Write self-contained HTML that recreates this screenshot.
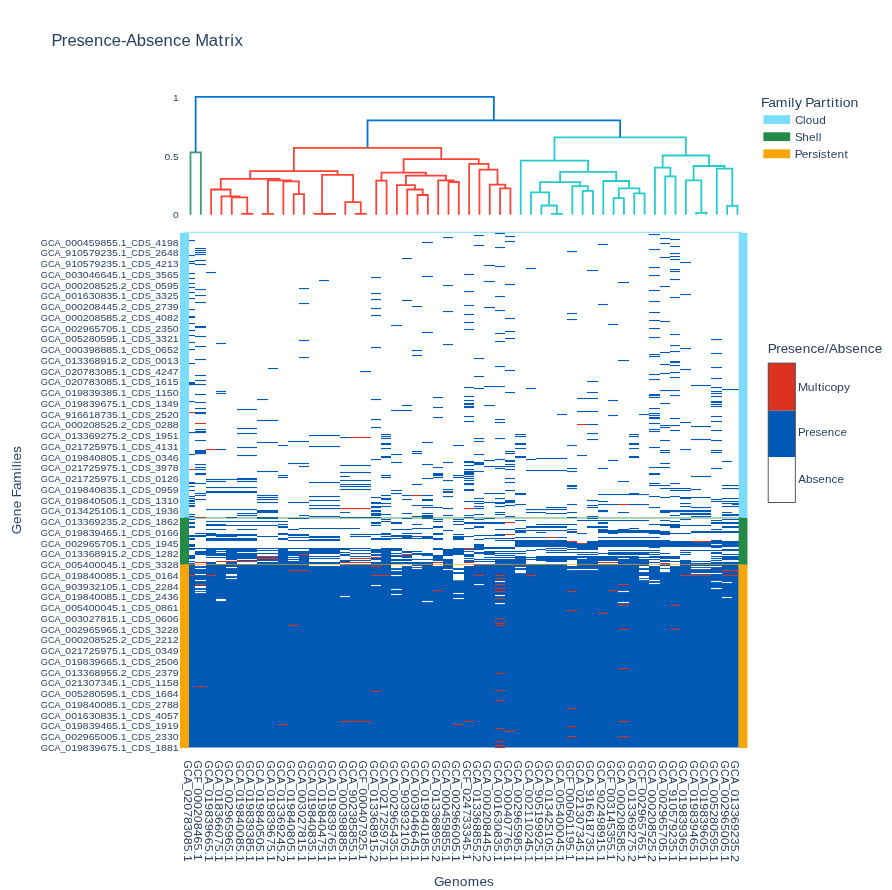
<!DOCTYPE html>
<html><head><meta charset="utf-8"><title>Presence-Absence Matrix</title>
<style>html,body{margin:0;padding:0;background:#fff;}body{width:892px;height:890px;overflow:hidden;font-family:"Liberation Sans",sans-serif;}</style>
</head><body>
<svg width="892" height="890" viewBox="0 0 892 890" style="display:block;will-change:transform" font-family="Liberation Sans, sans-serif">
<rect width="892" height="890" fill="#fff"/>
<g transform="translate(52.50 45.50)" font-size="15.61" fill="#2a3f5f"><text transform="scale(1.0671 1)" x="-0.92 8.76 14.03 22.38 30.02 38.89 47.73 55.57 64.25 68.91 78.98 87.63 95.27 104.14 112.98 120.82 129.62 133.67 146.32 155.63 160.90 166.66 170.67" y="0">Presence-Absence Matrix</text></g>
<path d="M190.50 214.80 L190.50 152.30 L200.82 152.30 L200.82 214.80" fill="none" stroke="rgb(61,153,112)" stroke-width="1.78" stroke-linejoin="miter"/>
<path d="M242.10 214.80 L242.10 213.90 L252.42 213.90 L252.42 214.80" fill="none" stroke="rgb(255,65,54)" stroke-width="1.78" stroke-linejoin="miter"/>
<path d="M231.78 214.80 L231.78 197.30 L247.26 197.30 L247.26 213.90" fill="none" stroke="rgb(255,65,54)" stroke-width="1.78" stroke-linejoin="miter"/>
<path d="M221.46 214.80 L221.46 196.30 L239.52 196.30 L239.52 197.30" fill="none" stroke="rgb(255,65,54)" stroke-width="1.78" stroke-linejoin="miter"/>
<path d="M211.14 214.80 L211.14 189.50 L230.49 189.50 L230.49 196.30" fill="none" stroke="rgb(255,65,54)" stroke-width="1.78" stroke-linejoin="miter"/>
<path d="M262.74 214.80 L262.74 213.90 L273.06 213.90 L273.06 214.80" fill="none" stroke="rgb(255,65,54)" stroke-width="1.78" stroke-linejoin="miter"/>
<path d="M293.70 214.80 L293.70 194.10 L304.02 194.10 L304.02 214.80" fill="none" stroke="rgb(255,65,54)" stroke-width="1.78" stroke-linejoin="miter"/>
<path d="M283.38 214.80 L283.38 181.30 L298.86 181.30 L298.86 194.10" fill="none" stroke="rgb(255,65,54)" stroke-width="1.78" stroke-linejoin="miter"/>
<path d="M267.90 213.90 L267.90 180.30 L291.12 180.30 L291.12 181.30" fill="none" stroke="rgb(255,65,54)" stroke-width="1.78" stroke-linejoin="miter"/>
<path d="M220.81 189.50 L220.81 178.80 L279.51 178.80 L279.51 180.30" fill="none" stroke="rgb(255,65,54)" stroke-width="1.78" stroke-linejoin="miter"/>
<path d="M324.66 214.80 L324.66 213.90 L334.98 213.90 L334.98 214.80" fill="none" stroke="rgb(255,65,54)" stroke-width="1.78" stroke-linejoin="miter"/>
<path d="M314.34 214.80 L314.34 213.90 L329.82 213.90 L329.82 213.90" fill="none" stroke="rgb(255,65,54)" stroke-width="1.78" stroke-linejoin="miter"/>
<path d="M355.62 214.80 L355.62 213.90 L365.94 213.90 L365.94 214.80" fill="none" stroke="rgb(255,65,54)" stroke-width="1.78" stroke-linejoin="miter"/>
<path d="M345.30 214.80 L345.30 202.10 L360.78 202.10 L360.78 213.90" fill="none" stroke="rgb(255,65,54)" stroke-width="1.78" stroke-linejoin="miter"/>
<path d="M322.08 213.90 L322.08 174.90 L353.04 174.90 L353.04 202.10" fill="none" stroke="rgb(255,65,54)" stroke-width="1.78" stroke-linejoin="miter"/>
<path d="M250.16 178.80 L250.16 171.10 L337.56 171.10 L337.56 174.90" fill="none" stroke="rgb(255,65,54)" stroke-width="1.78" stroke-linejoin="miter"/>
<path d="M376.26 214.80 L376.26 180.60 L386.58 180.60 L386.58 214.80" fill="none" stroke="rgb(255,65,54)" stroke-width="1.78" stroke-linejoin="miter"/>
<path d="M417.54 214.80 L417.54 195.00 L427.86 195.00 L427.86 214.80" fill="none" stroke="rgb(255,65,54)" stroke-width="1.78" stroke-linejoin="miter"/>
<path d="M407.22 214.80 L407.22 189.50 L422.70 189.50 L422.70 195.00" fill="none" stroke="rgb(255,65,54)" stroke-width="1.78" stroke-linejoin="miter"/>
<path d="M396.90 214.80 L396.90 185.10 L414.96 185.10 L414.96 189.50" fill="none" stroke="rgb(255,65,54)" stroke-width="1.78" stroke-linejoin="miter"/>
<path d="M448.50 214.80 L448.50 182.00 L458.82 182.00 L458.82 214.80" fill="none" stroke="rgb(255,65,54)" stroke-width="1.78" stroke-linejoin="miter"/>
<path d="M438.18 214.80 L438.18 180.30 L453.66 180.30 L453.66 182.00" fill="none" stroke="rgb(255,65,54)" stroke-width="1.78" stroke-linejoin="miter"/>
<path d="M405.93 185.10 L405.93 175.60 L445.92 175.60 L445.92 180.30" fill="none" stroke="rgb(255,65,54)" stroke-width="1.78" stroke-linejoin="miter"/>
<path d="M381.42 180.60 L381.42 172.60 L425.92 172.60 L425.92 175.60" fill="none" stroke="rgb(255,65,54)" stroke-width="1.78" stroke-linejoin="miter"/>
<path d="M500.10 214.80 L500.10 188.30 L510.42 188.30 L510.42 214.80" fill="none" stroke="rgb(255,65,54)" stroke-width="1.78" stroke-linejoin="miter"/>
<path d="M489.78 214.80 L489.78 184.60 L505.26 184.60 L505.26 188.30" fill="none" stroke="rgb(255,65,54)" stroke-width="1.78" stroke-linejoin="miter"/>
<path d="M479.46 214.80 L479.46 169.60 L497.52 169.60 L497.52 184.60" fill="none" stroke="rgb(255,65,54)" stroke-width="1.78" stroke-linejoin="miter"/>
<path d="M469.14 214.80 L469.14 163.80 L488.49 163.80 L488.49 169.60" fill="none" stroke="rgb(255,65,54)" stroke-width="1.78" stroke-linejoin="miter"/>
<path d="M403.67 172.60 L403.67 159.10 L478.81 159.10 L478.81 163.80" fill="none" stroke="rgb(255,65,54)" stroke-width="1.78" stroke-linejoin="miter"/>
<path d="M293.86 171.10 L293.86 147.80 L441.24 147.80 L441.24 159.10" fill="none" stroke="rgb(255,65,54)" stroke-width="1.78" stroke-linejoin="miter"/>
<path d="M551.70 214.80 L551.70 213.90 L562.02 213.90 L562.02 214.80" fill="none" stroke="rgb(35,205,205)" stroke-width="1.78" stroke-linejoin="miter"/>
<path d="M541.38 214.80 L541.38 205.50 L556.86 205.50 L556.86 213.90" fill="none" stroke="rgb(35,205,205)" stroke-width="1.78" stroke-linejoin="miter"/>
<path d="M531.06 214.80 L531.06 192.40 L549.12 192.40 L549.12 205.50" fill="none" stroke="rgb(35,205,205)" stroke-width="1.78" stroke-linejoin="miter"/>
<path d="M582.66 214.80 L582.66 190.90 L592.98 190.90 L592.98 214.80" fill="none" stroke="rgb(35,205,205)" stroke-width="1.78" stroke-linejoin="miter"/>
<path d="M572.34 214.80 L572.34 186.10 L587.82 186.10 L587.82 190.90" fill="none" stroke="rgb(35,205,205)" stroke-width="1.78" stroke-linejoin="miter"/>
<path d="M540.09 192.40 L540.09 182.20 L580.08 182.20 L580.08 186.10" fill="none" stroke="rgb(35,205,205)" stroke-width="1.78" stroke-linejoin="miter"/>
<path d="M613.62 214.80 L613.62 198.20 L623.94 198.20 L623.94 214.80" fill="none" stroke="rgb(35,205,205)" stroke-width="1.78" stroke-linejoin="miter"/>
<path d="M634.26 214.80 L634.26 193.40 L644.58 193.40 L644.58 214.80" fill="none" stroke="rgb(35,205,205)" stroke-width="1.78" stroke-linejoin="miter"/>
<path d="M618.78 198.20 L618.78 188.30 L639.42 188.30 L639.42 193.40" fill="none" stroke="rgb(35,205,205)" stroke-width="1.78" stroke-linejoin="miter"/>
<path d="M603.30 214.80 L603.30 181.00 L629.10 181.00 L629.10 188.30" fill="none" stroke="rgb(35,205,205)" stroke-width="1.78" stroke-linejoin="miter"/>
<path d="M560.09 182.20 L560.09 171.80 L616.20 171.80 L616.20 181.00" fill="none" stroke="rgb(35,205,205)" stroke-width="1.78" stroke-linejoin="miter"/>
<path d="M520.74 214.80 L520.74 160.60 L588.14 160.60 L588.14 171.80" fill="none" stroke="rgb(35,205,205)" stroke-width="1.78" stroke-linejoin="miter"/>
<path d="M665.22 214.80 L665.22 176.30 L675.54 176.30 L675.54 214.80" fill="none" stroke="rgb(35,205,205)" stroke-width="1.78" stroke-linejoin="miter"/>
<path d="M654.90 214.80 L654.90 167.60 L670.38 167.60 L670.38 176.30" fill="none" stroke="rgb(35,205,205)" stroke-width="1.78" stroke-linejoin="miter"/>
<path d="M696.18 214.80 L696.18 212.80 L706.50 212.80 L706.50 214.80" fill="none" stroke="rgb(35,205,205)" stroke-width="1.78" stroke-linejoin="miter"/>
<path d="M685.86 214.80 L685.86 180.30 L701.34 180.30 L701.34 212.80" fill="none" stroke="rgb(35,205,205)" stroke-width="1.78" stroke-linejoin="miter"/>
<path d="M727.14 214.80 L727.14 205.80 L737.46 205.80 L737.46 214.80" fill="none" stroke="rgb(35,205,205)" stroke-width="1.78" stroke-linejoin="miter"/>
<path d="M716.82 214.80 L716.82 168.60 L732.30 168.60 L732.30 205.80" fill="none" stroke="rgb(35,205,205)" stroke-width="1.78" stroke-linejoin="miter"/>
<path d="M693.60 180.30 L693.60 166.00 L724.56 166.00 L724.56 168.60" fill="none" stroke="rgb(35,205,205)" stroke-width="1.78" stroke-linejoin="miter"/>
<path d="M662.64 167.60 L662.64 155.50 L709.08 155.50 L709.08 166.00" fill="none" stroke="rgb(35,205,205)" stroke-width="1.78" stroke-linejoin="miter"/>
<path d="M554.44 160.60 L554.44 137.30 L685.86 137.30 L685.86 155.50" fill="none" stroke="rgb(35,205,205)" stroke-width="1.78" stroke-linejoin="miter"/>
<path d="M367.55 147.80 L367.55 120.40 L620.15 120.40 L620.15 137.30" fill="none" stroke="rgb(0,116,217)" stroke-width="1.78" stroke-linejoin="miter"/>
<path d="M195.66 152.30 L195.66 96.80 L493.85 96.80 L493.85 120.40" fill="none" stroke="rgb(0,116,217)" stroke-width="1.78" stroke-linejoin="miter"/>
<g transform="translate(178.60 101.20)" font-size="9.19" fill="#2a3f5f"><text transform="scale(1.1107 1)" x="-5.11" y="0">1</text></g>
<g transform="translate(178.60 160.20)" font-size="9.19" fill="#2a3f5f"><text transform="scale(1.1107 1)" x="-12.77 -7.66 -5.11" y="0">0.5</text></g>
<g transform="translate(178.60 218.20)" font-size="9.19" fill="#2a3f5f"><text transform="scale(1.1107 1)" x="-5.11" y="0">0</text></g>
<g shape-rendering="auto">
<rect x="189.00" y="564.00" width="549.70" height="183.50" fill="#005ab5"/>
<rect x="189.00" y="239.97" width="6.00" height="1.10" fill="#005ab5"/>
<rect x="189.00" y="254.97" width="6.00" height="1.10" fill="#005ab5"/>
<rect x="189.00" y="260.97" width="6.00" height="1.10" fill="#005ab5"/>
<rect x="189.00" y="262.97" width="6.00" height="1.10" fill="#005ab5"/>
<rect x="189.00" y="272.97" width="6.00" height="1.10" fill="#005ab5"/>
<rect x="189.00" y="277.97" width="6.00" height="1.10" fill="#005ab5"/>
<rect x="189.00" y="282.97" width="6.00" height="1.10" fill="#005ab5"/>
<rect x="189.00" y="286.97" width="6.00" height="1.10" fill="#005ab5"/>
<rect x="189.00" y="291.97" width="6.00" height="1.10" fill="#005ab5"/>
<rect x="189.00" y="297.97" width="6.00" height="1.10" fill="#005ab5"/>
<rect x="189.00" y="308.97" width="6.00" height="1.10" fill="#005ab5"/>
<rect x="189.00" y="315.98" width="6.00" height="2.10" fill="#005ab5"/>
<rect x="189.00" y="322.97" width="6.00" height="1.10" fill="#005ab5"/>
<rect x="189.00" y="329.97" width="6.00" height="1.10" fill="#005ab5"/>
<rect x="189.00" y="334.97" width="6.00" height="1.10" fill="#005ab5"/>
<rect x="189.00" y="341.97" width="6.00" height="1.10" fill="#005ab5"/>
<rect x="189.00" y="348.97" width="6.00" height="1.10" fill="#005ab5"/>
<rect x="189.00" y="362.97" width="6.00" height="1.10" fill="#005ab5"/>
<rect x="195.00" y="247.97" width="11.00" height="1.10" fill="#005ab5"/>
<rect x="195.00" y="249.97" width="11.00" height="1.10" fill="#005ab5"/>
<rect x="195.00" y="251.97" width="11.00" height="1.10" fill="#005ab5"/>
<rect x="195.00" y="253.97" width="11.00" height="1.10" fill="#005ab5"/>
<rect x="195.00" y="259.97" width="11.00" height="1.10" fill="#005ab5"/>
<rect x="195.00" y="263.97" width="11.00" height="1.10" fill="#005ab5"/>
<rect x="195.00" y="288.97" width="11.00" height="1.10" fill="#005ab5"/>
<rect x="195.00" y="294.97" width="11.00" height="1.10" fill="#005ab5"/>
<rect x="195.00" y="301.97" width="11.00" height="1.10" fill="#005ab5"/>
<rect x="195.00" y="325.98" width="11.00" height="2.10" fill="#005ab5"/>
<rect x="195.00" y="335.97" width="11.00" height="1.10" fill="#005ab5"/>
<rect x="195.00" y="345.97" width="11.00" height="1.10" fill="#005ab5"/>
<rect x="195.00" y="358.97" width="11.00" height="1.10" fill="#005ab5"/>
<rect x="206.00" y="271.97" width="10.00" height="1.10" fill="#005ab5"/>
<rect x="216.00" y="342.97" width="10.00" height="1.10" fill="#005ab5"/>
<rect x="268.00" y="367.97" width="10.00" height="1.10" fill="#005ab5"/>
<rect x="299.00" y="287.97" width="10.00" height="1.10" fill="#005ab5"/>
<rect x="299.00" y="302.97" width="10.00" height="1.10" fill="#005ab5"/>
<rect x="299.00" y="339.97" width="10.00" height="1.10" fill="#005ab5"/>
<rect x="299.00" y="356.97" width="10.00" height="1.10" fill="#005ab5"/>
<rect x="319.00" y="279.97" width="10.00" height="1.10" fill="#005ab5"/>
<rect x="360.00" y="370.97" width="11.00" height="1.10" fill="#005ab5"/>
<rect x="371.00" y="276.97" width="10.00" height="1.10" fill="#005ab5"/>
<rect x="371.00" y="292.97" width="10.00" height="1.10" fill="#005ab5"/>
<rect x="371.00" y="298.97" width="10.00" height="1.10" fill="#005ab5"/>
<rect x="371.00" y="307.97" width="10.00" height="1.10" fill="#005ab5"/>
<rect x="371.00" y="314.97" width="10.00" height="1.10" fill="#005ab5"/>
<rect x="371.00" y="346.97" width="10.00" height="1.10" fill="#005ab5"/>
<rect x="391.00" y="324.97" width="11.00" height="1.10" fill="#005ab5"/>
<rect x="402.00" y="257.97" width="10.00" height="1.10" fill="#005ab5"/>
<rect x="402.00" y="299.97" width="10.00" height="1.10" fill="#005ab5"/>
<rect x="412.00" y="305.97" width="10.00" height="1.10" fill="#005ab5"/>
<rect x="412.00" y="349.97" width="10.00" height="1.10" fill="#005ab5"/>
<rect x="412.00" y="354.97" width="10.00" height="1.10" fill="#005ab5"/>
<rect x="422.00" y="241.97" width="11.00" height="1.10" fill="#005ab5"/>
<rect x="422.00" y="275.97" width="11.00" height="1.10" fill="#005ab5"/>
<rect x="422.00" y="331.97" width="11.00" height="1.10" fill="#005ab5"/>
<rect x="443.00" y="236.97" width="10.00" height="1.10" fill="#005ab5"/>
<rect x="443.00" y="284.97" width="10.00" height="1.10" fill="#005ab5"/>
<rect x="443.00" y="310.97" width="10.00" height="1.10" fill="#005ab5"/>
<rect x="443.00" y="343.97" width="10.00" height="1.10" fill="#005ab5"/>
<rect x="464.00" y="273.97" width="10.00" height="1.10" fill="#005ab5"/>
<rect x="464.00" y="290.97" width="10.00" height="1.10" fill="#005ab5"/>
<rect x="464.00" y="304.97" width="10.00" height="1.10" fill="#005ab5"/>
<rect x="464.00" y="313.97" width="10.00" height="1.10" fill="#005ab5"/>
<rect x="464.00" y="321.97" width="10.00" height="1.10" fill="#005ab5"/>
<rect x="464.00" y="328.97" width="10.00" height="1.10" fill="#005ab5"/>
<rect x="474.00" y="234.97" width="10.00" height="1.10" fill="#005ab5"/>
<rect x="474.00" y="244.97" width="10.00" height="1.10" fill="#005ab5"/>
<rect x="474.00" y="357.97" width="10.00" height="1.10" fill="#005ab5"/>
<rect x="484.00" y="264.97" width="11.00" height="1.10" fill="#005ab5"/>
<rect x="484.00" y="280.97" width="11.00" height="1.10" fill="#005ab5"/>
<rect x="484.00" y="306.97" width="11.00" height="1.10" fill="#005ab5"/>
<rect x="495.00" y="232.97" width="10.00" height="1.10" fill="#005ab5"/>
<rect x="495.00" y="246.97" width="10.00" height="1.10" fill="#005ab5"/>
<rect x="495.00" y="265.97" width="10.00" height="1.10" fill="#005ab5"/>
<rect x="495.00" y="295.97" width="10.00" height="1.10" fill="#005ab5"/>
<rect x="495.00" y="309.97" width="10.00" height="1.10" fill="#005ab5"/>
<rect x="495.00" y="332.97" width="10.00" height="1.10" fill="#005ab5"/>
<rect x="495.00" y="340.97" width="10.00" height="1.10" fill="#005ab5"/>
<rect x="495.00" y="365.97" width="10.00" height="1.10" fill="#005ab5"/>
<rect x="505.00" y="235.97" width="10.00" height="1.10" fill="#005ab5"/>
<rect x="505.00" y="240.97" width="10.00" height="1.10" fill="#005ab5"/>
<rect x="505.00" y="283.97" width="10.00" height="1.10" fill="#005ab5"/>
<rect x="505.00" y="317.97" width="10.00" height="1.10" fill="#005ab5"/>
<rect x="505.00" y="330.97" width="10.00" height="1.10" fill="#005ab5"/>
<rect x="505.00" y="337.97" width="10.00" height="1.10" fill="#005ab5"/>
<rect x="505.00" y="369.97" width="10.00" height="1.10" fill="#005ab5"/>
<rect x="526.00" y="267.97" width="10.00" height="1.10" fill="#005ab5"/>
<rect x="567.00" y="250.97" width="10.00" height="1.10" fill="#005ab5"/>
<rect x="567.00" y="312.97" width="10.00" height="1.10" fill="#005ab5"/>
<rect x="567.00" y="318.97" width="10.00" height="1.10" fill="#005ab5"/>
<rect x="587.00" y="269.97" width="11.00" height="1.10" fill="#005ab5"/>
<rect x="598.00" y="243.97" width="10.00" height="1.10" fill="#005ab5"/>
<rect x="598.00" y="303.97" width="10.00" height="1.10" fill="#005ab5"/>
<rect x="608.00" y="323.97" width="10.00" height="1.10" fill="#005ab5"/>
<rect x="618.00" y="281.97" width="11.00" height="1.10" fill="#005ab5"/>
<rect x="618.00" y="359.97" width="11.00" height="1.10" fill="#005ab5"/>
<rect x="649.00" y="233.97" width="11.00" height="1.10" fill="#005ab5"/>
<rect x="649.00" y="248.97" width="11.00" height="1.10" fill="#005ab5"/>
<rect x="649.00" y="266.97" width="11.00" height="1.10" fill="#005ab5"/>
<rect x="649.00" y="274.97" width="11.00" height="1.10" fill="#005ab5"/>
<rect x="649.00" y="289.97" width="11.00" height="1.10" fill="#005ab5"/>
<rect x="649.00" y="300.97" width="11.00" height="1.10" fill="#005ab5"/>
<rect x="649.00" y="311.97" width="11.00" height="1.10" fill="#005ab5"/>
<rect x="649.00" y="319.97" width="11.00" height="1.10" fill="#005ab5"/>
<rect x="649.00" y="327.97" width="11.00" height="1.10" fill="#005ab5"/>
<rect x="649.00" y="336.97" width="11.00" height="1.10" fill="#005ab5"/>
<rect x="649.00" y="353.97" width="11.00" height="1.10" fill="#005ab5"/>
<rect x="649.00" y="355.97" width="11.00" height="1.10" fill="#005ab5"/>
<rect x="660.00" y="237.97" width="10.00" height="1.10" fill="#005ab5"/>
<rect x="660.00" y="242.97" width="10.00" height="1.10" fill="#005ab5"/>
<rect x="660.00" y="256.97" width="10.00" height="1.10" fill="#005ab5"/>
<rect x="660.00" y="285.97" width="10.00" height="1.10" fill="#005ab5"/>
<rect x="660.00" y="320.97" width="10.00" height="1.10" fill="#005ab5"/>
<rect x="660.00" y="351.97" width="10.00" height="1.10" fill="#005ab5"/>
<rect x="660.00" y="363.97" width="10.00" height="1.10" fill="#005ab5"/>
<rect x="670.00" y="238.97" width="10.00" height="1.10" fill="#005ab5"/>
<rect x="670.00" y="245.97" width="10.00" height="1.10" fill="#005ab5"/>
<rect x="670.00" y="252.97" width="10.00" height="1.10" fill="#005ab5"/>
<rect x="670.00" y="255.97" width="10.00" height="1.10" fill="#005ab5"/>
<rect x="670.00" y="258.97" width="10.00" height="1.10" fill="#005ab5"/>
<rect x="670.00" y="268.97" width="10.00" height="1.10" fill="#005ab5"/>
<rect x="670.00" y="270.97" width="10.00" height="1.10" fill="#005ab5"/>
<rect x="670.00" y="278.97" width="10.00" height="1.10" fill="#005ab5"/>
<rect x="670.00" y="296.97" width="10.00" height="1.10" fill="#005ab5"/>
<rect x="670.00" y="333.97" width="10.00" height="1.10" fill="#005ab5"/>
<rect x="670.00" y="344.97" width="10.00" height="1.10" fill="#005ab5"/>
<rect x="670.00" y="350.97" width="10.00" height="1.10" fill="#005ab5"/>
<rect x="670.00" y="360.98" width="10.00" height="2.10" fill="#005ab5"/>
<rect x="670.00" y="364.97" width="10.00" height="1.10" fill="#005ab5"/>
<rect x="680.00" y="261.97" width="11.00" height="1.10" fill="#005ab5"/>
<rect x="680.00" y="293.97" width="11.00" height="1.10" fill="#005ab5"/>
<rect x="680.00" y="347.97" width="11.00" height="1.10" fill="#005ab5"/>
<rect x="680.00" y="368.97" width="11.00" height="1.10" fill="#005ab5"/>
<rect x="711.00" y="338.97" width="11.00" height="1.10" fill="#005ab5"/>
<rect x="711.00" y="352.97" width="11.00" height="1.10" fill="#005ab5"/>
<rect x="711.00" y="366.97" width="11.00" height="1.10" fill="#005ab5"/>
<rect x="189.00" y="381.98" width="6.00" height="3.15" fill="#005ab5"/>
<rect x="189.00" y="400.97" width="6.00" height="1.10" fill="#005ab5"/>
<rect x="189.00" y="411.97" width="6.00" height="1.10" fill="#dc3220"/>
<rect x="189.00" y="431.97" width="6.00" height="1.10" fill="#005ab5"/>
<rect x="189.00" y="453.97" width="6.00" height="1.10" fill="#005ab5"/>
<rect x="189.00" y="468.97" width="6.00" height="1.10" fill="#dc3220"/>
<rect x="189.00" y="481.98" width="6.00" height="2.10" fill="#005ab5"/>
<rect x="189.00" y="485.97" width="6.00" height="1.10" fill="#005ab5"/>
<rect x="189.00" y="489.97" width="6.00" height="1.10" fill="#005ab5"/>
<rect x="189.00" y="495.97" width="6.00" height="1.10" fill="#005ab5"/>
<rect x="189.00" y="497.97" width="6.00" height="1.10" fill="#005ab5"/>
<rect x="189.00" y="499.98" width="6.00" height="2.10" fill="#005ab5"/>
<rect x="189.00" y="502.97" width="6.00" height="1.10" fill="#005ab5"/>
<rect x="189.00" y="504.98" width="6.00" height="2.10" fill="#005ab5"/>
<rect x="195.00" y="374.97" width="11.00" height="1.10" fill="#005ab5"/>
<rect x="195.00" y="379.97" width="11.00" height="1.10" fill="#005ab5"/>
<rect x="195.00" y="383.97" width="11.00" height="1.10" fill="#005ab5"/>
<rect x="195.00" y="393.97" width="11.00" height="1.10" fill="#005ab5"/>
<rect x="195.00" y="401.97" width="11.00" height="1.10" fill="#005ab5"/>
<rect x="195.00" y="407.97" width="11.00" height="1.10" fill="#005ab5"/>
<rect x="195.00" y="411.98" width="11.00" height="2.10" fill="#005ab5"/>
<rect x="195.00" y="422.97" width="11.00" height="1.10" fill="#dc3220"/>
<rect x="195.00" y="428.97" width="11.00" height="1.10" fill="#005ab5"/>
<rect x="195.00" y="430.98" width="11.00" height="2.10" fill="#005ab5"/>
<rect x="195.00" y="439.97" width="11.00" height="1.10" fill="#005ab5"/>
<rect x="195.00" y="449.98" width="11.00" height="4.20" fill="#005ab5"/>
<rect x="195.00" y="463.97" width="11.00" height="1.10" fill="#005ab5"/>
<rect x="195.00" y="466.97" width="11.00" height="1.10" fill="#005ab5"/>
<rect x="195.00" y="468.97" width="11.00" height="1.10" fill="#005ab5"/>
<rect x="195.00" y="472.98" width="11.00" height="2.10" fill="#005ab5"/>
<rect x="195.00" y="482.97" width="11.00" height="1.10" fill="#005ab5"/>
<rect x="195.00" y="492.97" width="11.00" height="1.10" fill="#005ab5"/>
<rect x="195.00" y="494.97" width="11.00" height="1.10" fill="#005ab5"/>
<rect x="195.00" y="498.97" width="11.00" height="1.10" fill="#005ab5"/>
<rect x="206.00" y="448.97" width="10.00" height="1.10" fill="#dc3220"/>
<rect x="216.00" y="390.97" width="10.00" height="1.10" fill="#005ab5"/>
<rect x="216.00" y="392.97" width="10.00" height="1.10" fill="#005ab5"/>
<rect x="216.00" y="448.97" width="10.00" height="1.10" fill="#005ab5"/>
<rect x="237.00" y="408.97" width="20.00" height="1.10" fill="#005ab5"/>
<rect x="237.00" y="427.97" width="20.00" height="1.10" fill="#005ab5"/>
<rect x="237.00" y="432.97" width="20.00" height="1.10" fill="#005ab5"/>
<rect x="237.00" y="446.97" width="20.00" height="1.10" fill="#005ab5"/>
<rect x="237.00" y="454.97" width="20.00" height="1.10" fill="#005ab5"/>
<rect x="237.00" y="477.98" width="20.00" height="2.10" fill="#005ab5"/>
<rect x="237.00" y="480.97" width="20.00" height="1.10" fill="#005ab5"/>
<rect x="257.00" y="398.97" width="11.00" height="1.10" fill="#005ab5"/>
<rect x="257.00" y="419.97" width="21.00" height="1.10" fill="#005ab5"/>
<rect x="257.00" y="441.97" width="21.00" height="1.10" fill="#005ab5"/>
<rect x="257.00" y="470.97" width="21.00" height="1.10" fill="#005ab5"/>
<rect x="257.00" y="494.97" width="21.00" height="1.10" fill="#005ab5"/>
<rect x="257.00" y="496.97" width="21.00" height="1.10" fill="#005ab5"/>
<rect x="257.00" y="498.97" width="21.00" height="1.10" fill="#005ab5"/>
<rect x="257.00" y="501.97" width="21.00" height="1.10" fill="#005ab5"/>
<rect x="257.00" y="509.98" width="21.00" height="2.10" fill="#005ab5"/>
<rect x="278.00" y="444.97" width="10.00" height="1.10" fill="#005ab5"/>
<rect x="278.00" y="474.97" width="10.00" height="1.10" fill="#005ab5"/>
<rect x="278.00" y="476.97" width="10.00" height="1.10" fill="#005ab5"/>
<rect x="288.00" y="440.97" width="21.00" height="1.10" fill="#005ab5"/>
<rect x="288.00" y="462.97" width="21.00" height="1.10" fill="#005ab5"/>
<rect x="288.00" y="501.97" width="21.00" height="1.10" fill="#005ab5"/>
<rect x="299.00" y="465.97" width="10.00" height="1.10" fill="#005ab5"/>
<rect x="309.00" y="434.97" width="31.00" height="1.10" fill="#005ab5"/>
<rect x="309.00" y="445.97" width="31.00" height="1.10" fill="#005ab5"/>
<rect x="309.00" y="481.97" width="31.00" height="1.10" fill="#005ab5"/>
<rect x="309.00" y="495.97" width="31.00" height="1.10" fill="#005ab5"/>
<rect x="309.00" y="499.97" width="31.00" height="1.10" fill="#005ab5"/>
<rect x="309.00" y="504.97" width="31.00" height="1.10" fill="#005ab5"/>
<rect x="309.00" y="507.97" width="31.00" height="1.10" fill="#005ab5"/>
<rect x="206.00" y="478.97" width="31.00" height="1.10" fill="#005ab5"/>
<rect x="206.00" y="480.97" width="20.00" height="1.10" fill="#005ab5"/>
<rect x="206.00" y="486.97" width="51.00" height="1.10" fill="#005ab5"/>
<rect x="206.00" y="490.98" width="51.00" height="2.10" fill="#005ab5"/>
<rect x="206.00" y="508.97" width="51.00" height="1.10" fill="#005ab5"/>
<rect x="340.00" y="436.97" width="10.00" height="1.10" fill="#005ab5"/>
<rect x="340.00" y="475.97" width="10.00" height="1.10" fill="#005ab5"/>
<rect x="350.00" y="436.97" width="21.00" height="1.10" fill="#dc3220"/>
<rect x="340.00" y="464.97" width="31.00" height="1.10" fill="#005ab5"/>
<rect x="340.00" y="471.97" width="31.00" height="1.10" fill="#005ab5"/>
<rect x="340.00" y="479.97" width="31.00" height="1.10" fill="#005ab5"/>
<rect x="340.00" y="483.97" width="31.00" height="1.10" fill="#005ab5"/>
<rect x="340.00" y="485.97" width="31.00" height="1.10" fill="#005ab5"/>
<rect x="340.00" y="488.97" width="31.00" height="1.10" fill="#005ab5"/>
<rect x="340.00" y="507.97" width="31.00" height="1.10" fill="#dc3220"/>
<rect x="371.00" y="398.97" width="10.00" height="1.10" fill="#005ab5"/>
<rect x="371.00" y="418.97" width="10.00" height="1.10" fill="#005ab5"/>
<rect x="371.00" y="426.97" width="10.00" height="1.10" fill="#005ab5"/>
<rect x="371.00" y="458.97" width="10.00" height="1.10" fill="#005ab5"/>
<rect x="371.00" y="496.97" width="10.00" height="1.10" fill="#005ab5"/>
<rect x="371.00" y="501.98" width="10.00" height="2.10" fill="#005ab5"/>
<rect x="371.00" y="505.98" width="10.00" height="2.10" fill="#005ab5"/>
<rect x="371.00" y="509.98" width="10.00" height="2.10" fill="#005ab5"/>
<rect x="381.00" y="433.97" width="10.00" height="1.10" fill="#005ab5"/>
<rect x="381.00" y="435.97" width="10.00" height="1.10" fill="#005ab5"/>
<rect x="381.00" y="437.97" width="10.00" height="1.10" fill="#005ab5"/>
<rect x="381.00" y="442.98" width="10.00" height="2.10" fill="#005ab5"/>
<rect x="381.00" y="447.97" width="10.00" height="1.10" fill="#005ab5"/>
<rect x="381.00" y="455.98" width="10.00" height="2.10" fill="#005ab5"/>
<rect x="381.00" y="474.97" width="10.00" height="1.10" fill="#005ab5"/>
<rect x="381.00" y="476.97" width="10.00" height="1.10" fill="#005ab5"/>
<rect x="381.00" y="494.97" width="10.00" height="1.10" fill="#005ab5"/>
<rect x="381.00" y="497.98" width="10.00" height="2.10" fill="#005ab5"/>
<rect x="381.00" y="502.97" width="10.00" height="1.10" fill="#005ab5"/>
<rect x="381.00" y="505.97" width="10.00" height="1.10" fill="#005ab5"/>
<rect x="391.00" y="453.97" width="11.00" height="1.10" fill="#005ab5"/>
<rect x="391.00" y="461.97" width="11.00" height="1.10" fill="#005ab5"/>
<rect x="391.00" y="489.97" width="11.00" height="1.10" fill="#005ab5"/>
<rect x="391.00" y="492.97" width="11.00" height="1.10" fill="#005ab5"/>
<rect x="391.00" y="409.97" width="21.00" height="1.10" fill="#005ab5"/>
<rect x="402.00" y="404.97" width="10.00" height="1.10" fill="#005ab5"/>
<rect x="402.00" y="494.97" width="10.00" height="1.10" fill="#005ab5"/>
<rect x="402.00" y="498.97" width="10.00" height="1.10" fill="#005ab5"/>
<rect x="412.00" y="450.97" width="10.00" height="1.10" fill="#005ab5"/>
<rect x="412.00" y="452.97" width="10.00" height="1.10" fill="#005ab5"/>
<rect x="412.00" y="483.97" width="10.00" height="1.10" fill="#005ab5"/>
<rect x="412.00" y="494.97" width="10.00" height="1.10" fill="#dc3220"/>
<rect x="412.00" y="504.97" width="10.00" height="1.10" fill="#005ab5"/>
<rect x="422.00" y="441.97" width="11.00" height="1.10" fill="#005ab5"/>
<rect x="422.00" y="463.97" width="11.00" height="1.10" fill="#005ab5"/>
<rect x="422.00" y="477.97" width="11.00" height="1.10" fill="#005ab5"/>
<rect x="422.00" y="494.97" width="11.00" height="1.10" fill="#005ab5"/>
<rect x="422.00" y="498.98" width="11.00" height="2.10" fill="#005ab5"/>
<rect x="422.00" y="504.97" width="11.00" height="1.10" fill="#005ab5"/>
<rect x="422.00" y="506.97" width="11.00" height="1.10" fill="#005ab5"/>
<rect x="433.00" y="396.97" width="10.00" height="1.10" fill="#005ab5"/>
<rect x="433.00" y="406.97" width="10.00" height="1.10" fill="#005ab5"/>
<rect x="433.00" y="416.97" width="10.00" height="1.10" fill="#005ab5"/>
<rect x="433.00" y="466.97" width="10.00" height="1.10" fill="#005ab5"/>
<rect x="433.00" y="472.98" width="10.00" height="3.15" fill="#005ab5"/>
<rect x="433.00" y="476.97" width="10.00" height="1.10" fill="#005ab5"/>
<rect x="433.00" y="506.97" width="10.00" height="1.10" fill="#005ab5"/>
<rect x="443.00" y="461.97" width="10.00" height="1.10" fill="#005ab5"/>
<rect x="443.00" y="479.97" width="10.00" height="1.10" fill="#005ab5"/>
<rect x="443.00" y="488.97" width="10.00" height="1.10" fill="#005ab5"/>
<rect x="443.00" y="490.98" width="10.00" height="2.10" fill="#005ab5"/>
<rect x="443.00" y="495.97" width="10.00" height="1.10" fill="#005ab5"/>
<rect x="443.00" y="507.97" width="10.00" height="1.10" fill="#005ab5"/>
<rect x="453.00" y="444.97" width="11.00" height="1.10" fill="#005ab5"/>
<rect x="453.00" y="474.97" width="11.00" height="1.10" fill="#005ab5"/>
<rect x="453.00" y="476.97" width="11.00" height="1.10" fill="#005ab5"/>
<rect x="464.00" y="386.97" width="10.00" height="1.10" fill="#005ab5"/>
<rect x="464.00" y="395.97" width="10.00" height="1.10" fill="#005ab5"/>
<rect x="464.00" y="399.97" width="10.00" height="1.10" fill="#005ab5"/>
<rect x="464.00" y="402.98" width="10.00" height="2.10" fill="#005ab5"/>
<rect x="464.00" y="405.98" width="10.00" height="2.10" fill="#005ab5"/>
<rect x="464.00" y="415.97" width="10.00" height="1.10" fill="#005ab5"/>
<rect x="464.00" y="420.97" width="10.00" height="1.10" fill="#005ab5"/>
<rect x="464.00" y="460.98" width="10.00" height="2.10" fill="#005ab5"/>
<rect x="464.00" y="464.97" width="10.00" height="1.10" fill="#005ab5"/>
<rect x="464.00" y="468.97" width="10.00" height="1.10" fill="#005ab5"/>
<rect x="464.00" y="470.97" width="10.00" height="1.10" fill="#005ab5"/>
<rect x="464.00" y="471.98" width="10.00" height="3.15" fill="#005ab5"/>
<rect x="464.00" y="475.97" width="10.00" height="1.10" fill="#005ab5"/>
<rect x="464.00" y="477.97" width="10.00" height="1.10" fill="#005ab5"/>
<rect x="464.00" y="479.97" width="10.00" height="1.10" fill="#005ab5"/>
<rect x="464.00" y="482.98" width="10.00" height="2.10" fill="#005ab5"/>
<rect x="464.00" y="488.98" width="10.00" height="2.10" fill="#005ab5"/>
<rect x="464.00" y="500.97" width="10.00" height="1.10" fill="#005ab5"/>
<rect x="464.00" y="507.97" width="10.00" height="1.10" fill="#dc3220"/>
<rect x="474.00" y="375.97" width="10.00" height="1.10" fill="#005ab5"/>
<rect x="474.00" y="387.97" width="10.00" height="1.10" fill="#005ab5"/>
<rect x="474.00" y="437.97" width="10.00" height="1.10" fill="#005ab5"/>
<rect x="474.00" y="440.97" width="10.00" height="1.10" fill="#005ab5"/>
<rect x="474.00" y="453.97" width="10.00" height="1.10" fill="#005ab5"/>
<rect x="474.00" y="461.98" width="10.00" height="3.15" fill="#005ab5"/>
<rect x="474.00" y="470.97" width="10.00" height="1.10" fill="#005ab5"/>
<rect x="474.00" y="497.97" width="10.00" height="1.10" fill="#005ab5"/>
<rect x="474.00" y="500.97" width="10.00" height="1.10" fill="#005ab5"/>
<rect x="474.00" y="502.97" width="10.00" height="1.10" fill="#005ab5"/>
<rect x="474.00" y="505.97" width="10.00" height="1.10" fill="#005ab5"/>
<rect x="474.00" y="507.97" width="10.00" height="1.10" fill="#005ab5"/>
<rect x="484.00" y="404.97" width="11.00" height="1.10" fill="#005ab5"/>
<rect x="484.00" y="459.97" width="11.00" height="1.10" fill="#005ab5"/>
<rect x="484.00" y="501.97" width="11.00" height="1.10" fill="#005ab5"/>
<rect x="484.00" y="385.97" width="21.00" height="1.10" fill="#005ab5"/>
<rect x="484.00" y="465.97" width="21.00" height="1.10" fill="#005ab5"/>
<rect x="484.00" y="492.97" width="21.00" height="1.10" fill="#005ab5"/>
<rect x="495.00" y="418.97" width="10.00" height="1.10" fill="#005ab5"/>
<rect x="495.00" y="421.97" width="10.00" height="1.10" fill="#005ab5"/>
<rect x="495.00" y="437.97" width="10.00" height="1.10" fill="#005ab5"/>
<rect x="495.00" y="458.97" width="10.00" height="1.10" fill="#005ab5"/>
<rect x="495.00" y="467.97" width="10.00" height="1.10" fill="#005ab5"/>
<rect x="495.00" y="497.97" width="10.00" height="1.10" fill="#005ab5"/>
<rect x="495.00" y="501.98" width="10.00" height="2.10" fill="#005ab5"/>
<rect x="495.00" y="505.97" width="10.00" height="1.10" fill="#005ab5"/>
<rect x="505.00" y="391.97" width="10.00" height="1.10" fill="#005ab5"/>
<rect x="505.00" y="450.97" width="10.00" height="1.10" fill="#005ab5"/>
<rect x="505.00" y="452.97" width="10.00" height="1.10" fill="#005ab5"/>
<rect x="505.00" y="459.98" width="10.00" height="2.10" fill="#005ab5"/>
<rect x="505.00" y="463.97" width="10.00" height="1.10" fill="#005ab5"/>
<rect x="505.00" y="465.97" width="10.00" height="1.10" fill="#005ab5"/>
<rect x="505.00" y="468.97" width="10.00" height="1.10" fill="#005ab5"/>
<rect x="505.00" y="477.97" width="10.00" height="1.10" fill="#005ab5"/>
<rect x="505.00" y="481.97" width="10.00" height="1.10" fill="#005ab5"/>
<rect x="505.00" y="489.97" width="10.00" height="1.10" fill="#005ab5"/>
<rect x="505.00" y="499.98" width="10.00" height="3.15" fill="#005ab5"/>
<rect x="505.00" y="504.97" width="10.00" height="1.10" fill="#005ab5"/>
<rect x="515.00" y="433.97" width="11.00" height="1.10" fill="#005ab5"/>
<rect x="515.00" y="435.97" width="11.00" height="1.10" fill="#005ab5"/>
<rect x="515.00" y="442.98" width="11.00" height="2.10" fill="#005ab5"/>
<rect x="515.00" y="447.97" width="11.00" height="1.10" fill="#005ab5"/>
<rect x="515.00" y="455.98" width="11.00" height="2.10" fill="#005ab5"/>
<rect x="515.00" y="492.98" width="11.00" height="2.10" fill="#005ab5"/>
<rect x="515.00" y="503.97" width="11.00" height="1.10" fill="#005ab5"/>
<rect x="526.00" y="387.97" width="10.00" height="1.10" fill="#005ab5"/>
<rect x="526.00" y="458.97" width="10.00" height="1.10" fill="#005ab5"/>
<rect x="526.00" y="469.97" width="41.00" height="1.10" fill="#005ab5"/>
<rect x="526.00" y="508.97" width="41.00" height="1.10" fill="#005ab5"/>
<rect x="536.00" y="457.97" width="31.00" height="1.10" fill="#005ab5"/>
<rect x="546.00" y="506.97" width="21.00" height="1.10" fill="#005ab5"/>
<rect x="557.00" y="413.97" width="10.00" height="1.10" fill="#005ab5"/>
<rect x="567.00" y="444.97" width="10.00" height="1.10" fill="#005ab5"/>
<rect x="567.00" y="467.97" width="10.00" height="1.10" fill="#005ab5"/>
<rect x="567.00" y="470.97" width="10.00" height="1.10" fill="#005ab5"/>
<rect x="567.00" y="484.98" width="10.00" height="2.10" fill="#005ab5"/>
<rect x="567.00" y="487.97" width="10.00" height="1.10" fill="#005ab5"/>
<rect x="567.00" y="503.97" width="10.00" height="1.10" fill="#005ab5"/>
<rect x="577.00" y="423.97" width="10.00" height="1.10" fill="#dc3220"/>
<rect x="577.00" y="454.97" width="10.00" height="1.10" fill="#005ab5"/>
<rect x="577.00" y="397.97" width="21.00" height="1.10" fill="#005ab5"/>
<rect x="577.00" y="410.97" width="21.00" height="1.10" fill="#005ab5"/>
<rect x="587.00" y="380.97" width="11.00" height="1.10" fill="#005ab5"/>
<rect x="587.00" y="391.97" width="11.00" height="1.10" fill="#005ab5"/>
<rect x="587.00" y="423.97" width="11.00" height="1.10" fill="#005ab5"/>
<rect x="587.00" y="432.97" width="11.00" height="1.10" fill="#005ab5"/>
<rect x="587.00" y="438.97" width="11.00" height="1.10" fill="#005ab5"/>
<rect x="587.00" y="499.97" width="11.00" height="1.10" fill="#005ab5"/>
<rect x="587.00" y="504.97" width="11.00" height="1.10" fill="#005ab5"/>
<rect x="587.00" y="506.97" width="11.00" height="1.10" fill="#005ab5"/>
<rect x="598.00" y="467.97" width="10.00" height="1.10" fill="#005ab5"/>
<rect x="598.00" y="493.97" width="10.00" height="1.10" fill="#005ab5"/>
<rect x="598.00" y="500.97" width="10.00" height="1.10" fill="#005ab5"/>
<rect x="598.00" y="503.97" width="10.00" height="1.10" fill="#005ab5"/>
<rect x="598.00" y="509.98" width="10.00" height="2.10" fill="#005ab5"/>
<rect x="608.00" y="399.97" width="10.00" height="1.10" fill="#005ab5"/>
<rect x="608.00" y="414.97" width="10.00" height="1.10" fill="#005ab5"/>
<rect x="608.00" y="459.97" width="10.00" height="1.10" fill="#005ab5"/>
<rect x="608.00" y="493.97" width="10.00" height="1.10" fill="#005ab5"/>
<rect x="608.00" y="503.97" width="10.00" height="1.10" fill="#005ab5"/>
<rect x="618.00" y="480.97" width="11.00" height="1.10" fill="#005ab5"/>
<rect x="618.00" y="493.97" width="11.00" height="1.10" fill="#005ab5"/>
<rect x="618.00" y="503.97" width="11.00" height="1.10" fill="#dc3220"/>
<rect x="629.00" y="433.97" width="10.00" height="1.10" fill="#005ab5"/>
<rect x="629.00" y="435.97" width="10.00" height="1.10" fill="#005ab5"/>
<rect x="629.00" y="442.98" width="10.00" height="2.10" fill="#005ab5"/>
<rect x="629.00" y="447.97" width="10.00" height="1.10" fill="#005ab5"/>
<rect x="629.00" y="455.98" width="10.00" height="2.10" fill="#005ab5"/>
<rect x="629.00" y="492.98" width="10.00" height="2.10" fill="#005ab5"/>
<rect x="629.00" y="503.97" width="10.00" height="1.10" fill="#005ab5"/>
<rect x="639.00" y="413.97" width="10.00" height="1.10" fill="#005ab5"/>
<rect x="639.00" y="493.97" width="10.00" height="1.10" fill="#005ab5"/>
<rect x="639.00" y="503.97" width="10.00" height="1.10" fill="#005ab5"/>
<rect x="649.00" y="373.97" width="11.00" height="1.10" fill="#005ab5"/>
<rect x="649.00" y="378.97" width="11.00" height="1.10" fill="#005ab5"/>
<rect x="649.00" y="393.98" width="11.00" height="2.10" fill="#005ab5"/>
<rect x="649.00" y="396.97" width="11.00" height="1.10" fill="#005ab5"/>
<rect x="649.00" y="407.97" width="11.00" height="1.10" fill="#005ab5"/>
<rect x="649.00" y="412.97" width="11.00" height="1.10" fill="#005ab5"/>
<rect x="649.00" y="414.97" width="11.00" height="1.10" fill="#005ab5"/>
<rect x="649.00" y="416.98" width="11.00" height="2.10" fill="#005ab5"/>
<rect x="649.00" y="422.97" width="11.00" height="1.10" fill="#005ab5"/>
<rect x="649.00" y="428.97" width="11.00" height="1.10" fill="#005ab5"/>
<rect x="649.00" y="430.97" width="11.00" height="1.10" fill="#005ab5"/>
<rect x="649.00" y="446.97" width="11.00" height="1.10" fill="#005ab5"/>
<rect x="649.00" y="466.97" width="11.00" height="1.10" fill="#005ab5"/>
<rect x="649.00" y="472.98" width="11.00" height="2.10" fill="#005ab5"/>
<rect x="649.00" y="482.97" width="11.00" height="1.10" fill="#005ab5"/>
<rect x="649.00" y="484.97" width="11.00" height="1.10" fill="#005ab5"/>
<rect x="649.00" y="495.97" width="11.00" height="1.10" fill="#005ab5"/>
<rect x="649.00" y="506.97" width="11.00" height="1.10" fill="#005ab5"/>
<rect x="660.00" y="372.97" width="10.00" height="1.10" fill="#005ab5"/>
<rect x="660.00" y="389.97" width="10.00" height="1.10" fill="#005ab5"/>
<rect x="660.00" y="402.97" width="10.00" height="1.10" fill="#005ab5"/>
<rect x="660.00" y="424.97" width="10.00" height="1.10" fill="#005ab5"/>
<rect x="660.00" y="426.97" width="10.00" height="1.10" fill="#005ab5"/>
<rect x="660.00" y="439.97" width="10.00" height="1.10" fill="#005ab5"/>
<rect x="660.00" y="449.97" width="10.00" height="1.10" fill="#005ab5"/>
<rect x="660.00" y="451.97" width="10.00" height="1.10" fill="#005ab5"/>
<rect x="660.00" y="462.97" width="10.00" height="1.10" fill="#005ab5"/>
<rect x="660.00" y="466.97" width="10.00" height="1.10" fill="#005ab5"/>
<rect x="660.00" y="484.97" width="10.00" height="1.10" fill="#005ab5"/>
<rect x="660.00" y="487.97" width="10.00" height="1.10" fill="#005ab5"/>
<rect x="660.00" y="496.97" width="10.00" height="1.10" fill="#005ab5"/>
<rect x="660.00" y="509.98" width="10.00" height="2.10" fill="#005ab5"/>
<rect x="670.00" y="371.97" width="10.00" height="1.10" fill="#005ab5"/>
<rect x="670.00" y="376.97" width="10.00" height="1.10" fill="#005ab5"/>
<rect x="670.00" y="389.97" width="10.00" height="1.10" fill="#005ab5"/>
<rect x="670.00" y="394.97" width="10.00" height="1.10" fill="#005ab5"/>
<rect x="670.00" y="417.97" width="10.00" height="1.10" fill="#005ab5"/>
<rect x="670.00" y="424.97" width="10.00" height="1.10" fill="#005ab5"/>
<rect x="670.00" y="429.97" width="10.00" height="1.10" fill="#005ab5"/>
<rect x="670.00" y="482.97" width="10.00" height="1.10" fill="#005ab5"/>
<rect x="670.00" y="487.97" width="10.00" height="1.10" fill="#005ab5"/>
<rect x="670.00" y="489.97" width="10.00" height="1.10" fill="#005ab5"/>
<rect x="670.00" y="495.97" width="10.00" height="1.10" fill="#005ab5"/>
<rect x="670.00" y="509.98" width="10.00" height="2.10" fill="#005ab5"/>
<rect x="680.00" y="421.97" width="11.00" height="1.10" fill="#005ab5"/>
<rect x="680.00" y="448.97" width="11.00" height="1.10" fill="#005ab5"/>
<rect x="680.00" y="487.97" width="11.00" height="1.10" fill="#005ab5"/>
<rect x="680.00" y="489.97" width="11.00" height="1.10" fill="#005ab5"/>
<rect x="680.00" y="496.98" width="11.00" height="2.10" fill="#005ab5"/>
<rect x="680.00" y="502.97" width="11.00" height="1.10" fill="#005ab5"/>
<rect x="680.00" y="505.97" width="11.00" height="1.10" fill="#005ab5"/>
<rect x="680.00" y="509.98" width="11.00" height="2.10" fill="#005ab5"/>
<rect x="691.00" y="384.97" width="20.00" height="1.10" fill="#005ab5"/>
<rect x="691.00" y="425.97" width="20.00" height="1.10" fill="#005ab5"/>
<rect x="691.00" y="438.97" width="20.00" height="1.10" fill="#005ab5"/>
<rect x="691.00" y="475.97" width="20.00" height="1.10" fill="#005ab5"/>
<rect x="691.00" y="496.97" width="20.00" height="1.10" fill="#005ab5"/>
<rect x="691.00" y="506.97" width="20.00" height="1.10" fill="#005ab5"/>
<rect x="691.00" y="509.98" width="20.00" height="2.10" fill="#005ab5"/>
<rect x="691.00" y="488.97" width="10.00" height="1.10" fill="#005ab5"/>
<rect x="711.00" y="377.97" width="11.00" height="1.10" fill="#005ab5"/>
<rect x="711.00" y="386.97" width="11.00" height="1.10" fill="#005ab5"/>
<rect x="711.00" y="390.97" width="11.00" height="1.10" fill="#005ab5"/>
<rect x="711.00" y="392.97" width="11.00" height="1.10" fill="#005ab5"/>
<rect x="711.00" y="395.97" width="11.00" height="1.10" fill="#005ab5"/>
<rect x="711.00" y="400.98" width="11.00" height="2.10" fill="#005ab5"/>
<rect x="711.00" y="403.97" width="11.00" height="1.10" fill="#005ab5"/>
<rect x="711.00" y="405.97" width="11.00" height="1.10" fill="#005ab5"/>
<rect x="711.00" y="415.97" width="11.00" height="1.10" fill="#005ab5"/>
<rect x="711.00" y="420.97" width="11.00" height="1.10" fill="#005ab5"/>
<rect x="711.00" y="429.97" width="11.00" height="1.10" fill="#005ab5"/>
<rect x="711.00" y="439.97" width="11.00" height="1.10" fill="#005ab5"/>
<rect x="711.00" y="449.97" width="11.00" height="1.10" fill="#005ab5"/>
<rect x="711.00" y="451.97" width="11.00" height="1.10" fill="#005ab5"/>
<rect x="711.00" y="467.97" width="11.00" height="1.10" fill="#005ab5"/>
<rect x="711.00" y="498.97" width="11.00" height="1.10" fill="#005ab5"/>
<rect x="711.00" y="500.97" width="11.00" height="1.10" fill="#005ab5"/>
<rect x="722.00" y="460.97" width="10.00" height="1.10" fill="#005ab5"/>
<rect x="722.00" y="388.97" width="20.00" height="1.10" fill="#005ab5"/>
<rect x="722.00" y="484.97" width="20.00" height="1.10" fill="#005ab5"/>
<rect x="722.00" y="487.97" width="20.00" height="1.10" fill="#005ab5"/>
<rect x="722.00" y="497.97" width="20.00" height="1.10" fill="#005ab5"/>
<rect x="722.00" y="500.97" width="20.00" height="1.10" fill="#005ab5"/>
<rect x="722.00" y="502.97" width="20.00" height="1.10" fill="#005ab5"/>
<rect x="722.00" y="505.97" width="20.00" height="1.10" fill="#005ab5"/>
<rect x="732.00" y="502.98" width="10.00" height="2.10" fill="#005ab5"/>
<rect x="206.00" y="508.98" width="51.00" height="1.06" fill="#005ab5"/>
<rect x="257.00" y="509.98" width="21.00" height="3.06" fill="#005ab5"/>
<rect x="237.00" y="512.98" width="20.00" height="1.06" fill="#005ab5"/>
<rect x="189.00" y="513.98" width="6.00" height="1.06" fill="#005ab5"/>
<rect x="237.00" y="514.98" width="20.00" height="1.06" fill="#005ab5"/>
<rect x="189.00" y="515.98" width="6.00" height="1.06" fill="#005ab5"/>
<rect x="195.00" y="516.98" width="11.00" height="1.06" fill="#dc3220"/>
<rect x="226.00" y="516.98" width="11.00" height="1.06" fill="#005ab5"/>
<rect x="257.00" y="516.98" width="21.00" height="2.06" fill="#005ab5"/>
<rect x="189.00" y="518.98" width="6.00" height="1.06" fill="#005ab5"/>
<rect x="206.00" y="520.98" width="82.00" height="1.06" fill="#005ab5"/>
<rect x="189.00" y="521.98" width="6.00" height="2.06" fill="#005ab5"/>
<rect x="206.00" y="523.98" width="20.00" height="2.06" fill="#005ab5"/>
<rect x="226.00" y="524.98" width="52.00" height="1.06" fill="#005ab5"/>
<rect x="278.00" y="523.98" width="10.00" height="1.06" fill="#005ab5"/>
<rect x="189.00" y="525.98" width="6.00" height="2.06" fill="#005ab5"/>
<rect x="278.00" y="525.98" width="10.00" height="2.06" fill="#005ab5"/>
<rect x="206.00" y="528.98" width="20.00" height="1.06" fill="#005ab5"/>
<rect x="237.00" y="528.98" width="20.00" height="1.06" fill="#005ab5"/>
<rect x="195.00" y="532.98" width="11.00" height="1.06" fill="#005ab5"/>
<rect x="206.00" y="532.98" width="10.00" height="3.06" fill="#005ab5"/>
<rect x="278.00" y="532.98" width="10.00" height="2.06" fill="#005ab5"/>
<rect x="189.00" y="534.98" width="17.00" height="2.06" fill="#005ab5"/>
<rect x="216.00" y="533.98" width="21.00" height="3.06" fill="#005ab5"/>
<rect x="237.00" y="533.98" width="20.00" height="2.06" fill="#005ab5"/>
<rect x="257.00" y="535.98" width="21.00" height="1.06" fill="#005ab5"/>
<rect x="189.00" y="537.98" width="6.00" height="2.06" fill="#005ab5"/>
<rect x="206.00" y="537.98" width="51.00" height="3.06" fill="#005ab5"/>
<rect x="278.00" y="537.98" width="10.00" height="2.06" fill="#005ab5"/>
<rect x="189.00" y="543.98" width="6.00" height="3.06" fill="#005ab5"/>
<rect x="309.00" y="507.98" width="31.00" height="1.06" fill="#005ab5"/>
<rect x="340.00" y="507.98" width="20.00" height="1.06" fill="#dc3220"/>
<rect x="340.00" y="511.98" width="10.00" height="1.06" fill="#005ab5"/>
<rect x="299.00" y="514.98" width="10.00" height="1.06" fill="#005ab5"/>
<rect x="309.00" y="515.98" width="31.00" height="1.06" fill="#005ab5"/>
<rect x="288.00" y="517.98" width="21.00" height="1.06" fill="#005ab5"/>
<rect x="340.00" y="516.98" width="20.00" height="1.06" fill="#005ab5"/>
<rect x="288.00" y="528.98" width="11.00" height="1.06" fill="#005ab5"/>
<rect x="299.00" y="527.98" width="61.00" height="1.06" fill="#005ab5"/>
<rect x="288.00" y="533.98" width="21.00" height="2.06" fill="#005ab5"/>
<rect x="350.00" y="533.98" width="10.00" height="1.06" fill="#005ab5"/>
<rect x="309.00" y="535.98" width="31.00" height="2.06" fill="#005ab5"/>
<rect x="288.00" y="536.98" width="21.00" height="1.06" fill="#005ab5"/>
<rect x="288.00" y="539.98" width="21.00" height="1.06" fill="#005ab5"/>
<rect x="309.00" y="538.98" width="31.00" height="2.06" fill="#005ab5"/>
<rect x="443.00" y="507.98" width="10.00" height="1.06" fill="#005ab5"/>
<rect x="371.00" y="509.98" width="10.00" height="2.06" fill="#005ab5"/>
<rect x="371.00" y="512.98" width="10.00" height="3.06" fill="#005ab5"/>
<rect x="381.00" y="513.98" width="10.00" height="1.06" fill="#005ab5"/>
<rect x="402.00" y="512.98" width="10.00" height="1.06" fill="#005ab5"/>
<rect x="422.00" y="512.98" width="11.00" height="1.06" fill="#005ab5"/>
<rect x="422.00" y="514.98" width="11.00" height="4.06" fill="#005ab5"/>
<rect x="412.00" y="515.98" width="10.00" height="1.06" fill="#005ab5"/>
<rect x="443.00" y="514.98" width="10.00" height="1.06" fill="#005ab5"/>
<rect x="350.00" y="516.98" width="21.00" height="1.06" fill="#005ab5"/>
<rect x="371.00" y="516.98" width="10.00" height="1.06" fill="#005ab5"/>
<rect x="402.00" y="517.98" width="10.00" height="1.06" fill="#005ab5"/>
<rect x="381.00" y="518.98" width="10.00" height="1.06" fill="#005ab5"/>
<rect x="433.00" y="518.98" width="10.00" height="1.06" fill="#005ab5"/>
<rect x="453.00" y="518.98" width="11.00" height="1.06" fill="#005ab5"/>
<rect x="371.00" y="521.98" width="10.00" height="2.06" fill="#005ab5"/>
<rect x="381.00" y="520.98" width="10.00" height="1.06" fill="#005ab5"/>
<rect x="391.00" y="521.98" width="11.00" height="2.06" fill="#005ab5"/>
<rect x="433.00" y="520.98" width="10.00" height="1.06" fill="#005ab5"/>
<rect x="371.00" y="524.98" width="10.00" height="1.06" fill="#005ab5"/>
<rect x="412.00" y="523.98" width="10.00" height="1.06" fill="#005ab5"/>
<rect x="453.00" y="523.98" width="11.00" height="1.06" fill="#005ab5"/>
<rect x="433.00" y="525.98" width="10.00" height="2.06" fill="#005ab5"/>
<rect x="391.00" y="528.98" width="21.00" height="1.06" fill="#005ab5"/>
<rect x="412.00" y="527.98" width="21.00" height="1.06" fill="#005ab5"/>
<rect x="443.00" y="529.98" width="10.00" height="1.06" fill="#005ab5"/>
<rect x="402.00" y="532.98" width="20.00" height="1.06" fill="#005ab5"/>
<rect x="381.00" y="532.98" width="10.00" height="2.06" fill="#005ab5"/>
<rect x="433.00" y="532.98" width="10.00" height="2.06" fill="#005ab5"/>
<rect x="350.00" y="533.98" width="21.00" height="1.06" fill="#005ab5"/>
<rect x="350.00" y="535.98" width="21.00" height="1.06" fill="#005ab5"/>
<rect x="371.00" y="533.98" width="10.00" height="1.06" fill="#005ab5"/>
<rect x="391.00" y="534.98" width="11.00" height="1.06" fill="#005ab5"/>
<rect x="402.00" y="534.98" width="10.00" height="3.06" fill="#005ab5"/>
<rect x="381.00" y="535.98" width="21.00" height="1.06" fill="#005ab5"/>
<rect x="412.00" y="535.98" width="21.00" height="1.06" fill="#005ab5"/>
<rect x="422.00" y="536.98" width="11.00" height="1.06" fill="#005ab5"/>
<rect x="453.00" y="533.98" width="11.00" height="1.06" fill="#005ab5"/>
<rect x="371.00" y="537.98" width="20.00" height="2.06" fill="#005ab5"/>
<rect x="391.00" y="537.98" width="42.00" height="1.06" fill="#005ab5"/>
<rect x="433.00" y="537.98" width="10.00" height="2.06" fill="#005ab5"/>
<rect x="453.00" y="536.98" width="11.00" height="1.06" fill="#005ab5"/>
<rect x="464.00" y="507.98" width="10.00" height="1.06" fill="#dc3220"/>
<rect x="474.00" y="507.98" width="10.00" height="1.06" fill="#005ab5"/>
<rect x="526.00" y="508.98" width="31.00" height="1.06" fill="#005ab5"/>
<rect x="495.00" y="511.98" width="10.00" height="1.06" fill="#005ab5"/>
<rect x="495.00" y="513.98" width="10.00" height="1.06" fill="#005ab5"/>
<rect x="474.00" y="513.98" width="10.00" height="1.06" fill="#005ab5"/>
<rect x="526.00" y="511.98" width="20.00" height="1.06" fill="#005ab5"/>
<rect x="546.00" y="512.98" width="21.00" height="1.06" fill="#005ab5"/>
<rect x="464.00" y="514.98" width="10.00" height="1.06" fill="#005ab5"/>
<rect x="505.00" y="515.98" width="10.00" height="1.06" fill="#005ab5"/>
<rect x="464.00" y="516.98" width="10.00" height="1.06" fill="#005ab5"/>
<rect x="484.00" y="517.98" width="11.00" height="1.06" fill="#005ab5"/>
<rect x="453.00" y="518.98" width="11.00" height="1.06" fill="#005ab5"/>
<rect x="474.00" y="518.98" width="10.00" height="1.06" fill="#005ab5"/>
<rect x="515.00" y="519.98" width="11.00" height="1.06" fill="#005ab5"/>
<rect x="453.00" y="520.98" width="11.00" height="1.06" fill="#005ab5"/>
<rect x="464.00" y="521.98" width="41.00" height="2.06" fill="#005ab5"/>
<rect x="505.00" y="521.98" width="10.00" height="1.06" fill="#dc3220"/>
<rect x="453.00" y="523.98" width="11.00" height="1.06" fill="#005ab5"/>
<rect x="536.00" y="523.98" width="21.00" height="1.06" fill="#005ab5"/>
<rect x="474.00" y="525.98" width="10.00" height="2.06" fill="#005ab5"/>
<rect x="526.00" y="525.98" width="41.00" height="2.06" fill="#005ab5"/>
<rect x="464.00" y="527.98" width="10.00" height="1.06" fill="#005ab5"/>
<rect x="515.00" y="527.98" width="11.00" height="1.06" fill="#005ab5"/>
<rect x="495.00" y="528.98" width="20.00" height="1.06" fill="#005ab5"/>
<rect x="515.00" y="529.98" width="11.00" height="3.06" fill="#005ab5"/>
<rect x="526.00" y="529.98" width="41.00" height="1.06" fill="#005ab5"/>
<rect x="536.00" y="531.98" width="10.00" height="1.06" fill="#005ab5"/>
<rect x="495.00" y="533.98" width="10.00" height="2.06" fill="#005ab5"/>
<rect x="505.00" y="533.98" width="10.00" height="1.06" fill="#dc3220"/>
<rect x="474.00" y="534.98" width="21.00" height="1.06" fill="#005ab5"/>
<rect x="453.00" y="535.98" width="21.00" height="1.06" fill="#005ab5"/>
<rect x="453.00" y="537.98" width="11.00" height="2.06" fill="#005ab5"/>
<rect x="484.00" y="537.98" width="31.00" height="1.06" fill="#005ab5"/>
<rect x="474.00" y="538.98" width="10.00" height="1.06" fill="#005ab5"/>
<rect x="515.00" y="536.98" width="31.00" height="1.06" fill="#005ab5"/>
<rect x="546.00" y="536.98" width="11.00" height="1.06" fill="#dc3220"/>
<rect x="557.00" y="536.98" width="10.00" height="1.06" fill="#005ab5"/>
<rect x="495.00" y="539.98" width="20.00" height="1.06" fill="#005ab5"/>
<rect x="515.00" y="539.98" width="52.00" height="7.06" fill="#005ab5"/>
<rect x="474.00" y="543.98" width="10.00" height="3.06" fill="#005ab5"/>
<rect x="567.00" y="511.98" width="10.00" height="1.06" fill="#005ab5"/>
<rect x="598.00" y="509.98" width="10.00" height="2.06" fill="#005ab5"/>
<rect x="618.00" y="511.98" width="11.00" height="1.06" fill="#005ab5"/>
<rect x="587.00" y="515.98" width="11.00" height="1.06" fill="#005ab5"/>
<rect x="567.00" y="516.98" width="10.00" height="1.06" fill="#005ab5"/>
<rect x="587.00" y="517.98" width="11.00" height="1.06" fill="#005ab5"/>
<rect x="577.00" y="519.98" width="72.00" height="1.06" fill="#005ab5"/>
<rect x="598.00" y="521.98" width="10.00" height="2.06" fill="#005ab5"/>
<rect x="546.00" y="523.98" width="31.00" height="1.06" fill="#005ab5"/>
<rect x="649.00" y="523.98" width="11.00" height="1.06" fill="#005ab5"/>
<rect x="587.00" y="525.98" width="21.00" height="2.06" fill="#005ab5"/>
<rect x="567.00" y="528.98" width="10.00" height="1.06" fill="#005ab5"/>
<rect x="629.00" y="527.98" width="10.00" height="1.06" fill="#005ab5"/>
<rect x="567.00" y="530.98" width="10.00" height="2.06" fill="#005ab5"/>
<rect x="577.00" y="532.98" width="10.00" height="1.06" fill="#005ab5"/>
<rect x="598.00" y="528.98" width="10.00" height="4.06" fill="#005ab5"/>
<rect x="608.00" y="529.98" width="10.00" height="4.06" fill="#005ab5"/>
<rect x="618.00" y="528.98" width="11.00" height="4.06" fill="#005ab5"/>
<rect x="629.00" y="529.98" width="20.00" height="3.06" fill="#005ab5"/>
<rect x="649.00" y="529.98" width="11.00" height="4.06" fill="#005ab5"/>
<rect x="598.00" y="536.98" width="62.00" height="1.06" fill="#005ab5"/>
<rect x="567.00" y="540.98" width="10.00" height="1.06" fill="#dc3220"/>
<rect x="577.00" y="542.98" width="10.00" height="1.06" fill="#dc3220"/>
<rect x="567.00" y="541.98" width="10.00" height="6.06" fill="#005ab5"/>
<rect x="577.00" y="543.98" width="10.00" height="6.06" fill="#005ab5"/>
<rect x="587.00" y="540.98" width="11.00" height="9.06" fill="#005ab5"/>
<rect x="598.00" y="539.98" width="51.00" height="7.06" fill="#005ab5"/>
<rect x="649.00" y="539.98" width="11.00" height="8.06" fill="#005ab5"/>
<rect x="660.00" y="509.98" width="51.00" height="2.06" fill="#005ab5"/>
<rect x="660.00" y="509.98" width="10.00" height="3.06" fill="#005ab5"/>
<rect x="680.00" y="512.98" width="31.00" height="2.06" fill="#005ab5"/>
<rect x="670.00" y="514.98" width="10.00" height="1.06" fill="#005ab5"/>
<rect x="691.00" y="515.98" width="20.00" height="1.06" fill="#005ab5"/>
<rect x="722.00" y="511.98" width="10.00" height="1.06" fill="#005ab5"/>
<rect x="722.00" y="513.98" width="20.00" height="2.06" fill="#005ab5"/>
<rect x="680.00" y="518.98" width="11.00" height="1.06" fill="#005ab5"/>
<rect x="660.00" y="519.98" width="10.00" height="1.06" fill="#005ab5"/>
<rect x="670.00" y="520.98" width="10.00" height="1.06" fill="#005ab5"/>
<rect x="711.00" y="519.98" width="11.00" height="1.06" fill="#005ab5"/>
<rect x="722.00" y="518.98" width="20.00" height="1.06" fill="#005ab5"/>
<rect x="711.00" y="521.98" width="31.00" height="2.06" fill="#005ab5"/>
<rect x="660.00" y="523.98" width="10.00" height="2.06" fill="#005ab5"/>
<rect x="670.00" y="523.98" width="10.00" height="4.06" fill="#005ab5"/>
<rect x="680.00" y="524.98" width="31.00" height="1.06" fill="#005ab5"/>
<rect x="722.00" y="525.98" width="20.00" height="2.06" fill="#005ab5"/>
<rect x="711.00" y="528.98" width="11.00" height="1.06" fill="#005ab5"/>
<rect x="660.00" y="530.98" width="10.00" height="4.06" fill="#005ab5"/>
<rect x="670.00" y="532.98" width="21.00" height="1.06" fill="#005ab5"/>
<rect x="691.00" y="530.98" width="51.00" height="2.06" fill="#005ab5"/>
<rect x="660.00" y="539.98" width="10.00" height="7.06" fill="#005ab5"/>
<rect x="670.00" y="540.98" width="41.00" height="6.06" fill="#005ab5"/>
<rect x="691.00" y="540.98" width="20.00" height="1.06" fill="#dc3220"/>
<rect x="711.00" y="539.98" width="11.00" height="4.06" fill="#005ab5"/>
<rect x="711.00" y="544.98" width="11.00" height="3.06" fill="#005ab5"/>
<rect x="722.00" y="540.98" width="20.00" height="6.06" fill="#005ab5"/>
<rect x="189.00" y="547.98" width="6.00" height="2.06" fill="#005ab5"/>
<rect x="189.00" y="554.98" width="6.00" height="4.06" fill="#005ab5"/>
<rect x="189.00" y="560.98" width="6.00" height="1.06" fill="#005ab5"/>
<rect x="189.00" y="562.98" width="6.00" height="1.07" fill="#005ab5"/>
<rect x="195.00" y="547.98" width="11.00" height="1.06" fill="#005ab5"/>
<rect x="195.00" y="550.98" width="11.00" height="4.06" fill="#005ab5"/>
<rect x="195.00" y="561.98" width="11.00" height="1.06" fill="#dc3220"/>
<rect x="206.00" y="547.98" width="10.00" height="8.06" fill="#005ab5"/>
<rect x="206.00" y="556.98" width="10.00" height="1.06" fill="#005ab5"/>
<rect x="206.00" y="561.98" width="10.00" height="2.07" fill="#005ab5"/>
<rect x="216.00" y="547.98" width="10.00" height="2.06" fill="#005ab5"/>
<rect x="216.00" y="550.98" width="10.00" height="1.06" fill="#005ab5"/>
<rect x="216.00" y="552.98" width="10.00" height="3.06" fill="#005ab5"/>
<rect x="216.00" y="556.98" width="10.00" height="1.06" fill="#005ab5"/>
<rect x="216.00" y="560.98" width="10.00" height="1.06" fill="#dc3220"/>
<rect x="226.00" y="547.98" width="11.00" height="12.06" fill="#005ab5"/>
<rect x="226.00" y="560.98" width="11.00" height="1.06" fill="#dc3220"/>
<rect x="226.00" y="561.98" width="11.00" height="2.07" fill="#005ab5"/>
<rect x="237.00" y="547.98" width="20.00" height="4.06" fill="#005ab5"/>
<rect x="237.00" y="552.98" width="20.00" height="6.06" fill="#005ab5"/>
<rect x="237.00" y="559.98" width="20.00" height="1.06" fill="#005ab5"/>
<rect x="237.00" y="560.98" width="20.00" height="1.06" fill="#dc3220"/>
<rect x="257.00" y="547.98" width="21.00" height="1.06" fill="#005ab5"/>
<rect x="257.00" y="549.98" width="21.00" height="1.06" fill="#005ab5"/>
<rect x="257.00" y="552.98" width="21.00" height="1.06" fill="#005ab5"/>
<rect x="257.00" y="555.98" width="21.00" height="1.06" fill="#dc3220"/>
<rect x="257.00" y="556.98" width="21.00" height="1.06" fill="#005ab5"/>
<rect x="257.00" y="557.98" width="21.00" height="1.06" fill="#dc3220"/>
<rect x="257.00" y="558.98" width="21.00" height="2.06" fill="#005ab5"/>
<rect x="257.00" y="561.98" width="21.00" height="2.07" fill="#005ab5"/>
<rect x="278.00" y="547.98" width="10.00" height="16.07" fill="#005ab5"/>
<rect x="288.00" y="547.98" width="11.00" height="1.06" fill="#005ab5"/>
<rect x="288.00" y="550.98" width="11.00" height="5.06" fill="#005ab5"/>
<rect x="288.00" y="556.98" width="11.00" height="1.06" fill="#005ab5"/>
<rect x="288.00" y="558.98" width="11.00" height="1.06" fill="#005ab5"/>
<rect x="288.00" y="560.98" width="11.00" height="3.07" fill="#005ab5"/>
<rect x="299.00" y="547.98" width="10.00" height="1.06" fill="#005ab5"/>
<rect x="299.00" y="550.98" width="10.00" height="3.06" fill="#005ab5"/>
<rect x="299.00" y="553.98" width="10.00" height="1.06" fill="#dc3220"/>
<rect x="299.00" y="554.98" width="10.00" height="9.07" fill="#005ab5"/>
<rect x="309.00" y="547.98" width="31.00" height="6.06" fill="#005ab5"/>
<rect x="309.00" y="555.98" width="31.00" height="1.06" fill="#005ab5"/>
<rect x="309.00" y="557.98" width="31.00" height="1.06" fill="#005ab5"/>
<rect x="309.00" y="561.98" width="31.00" height="2.07" fill="#005ab5"/>
<rect x="340.00" y="547.98" width="10.00" height="2.06" fill="#005ab5"/>
<rect x="340.00" y="551.98" width="10.00" height="1.06" fill="#005ab5"/>
<rect x="340.00" y="553.98" width="10.00" height="2.06" fill="#005ab5"/>
<rect x="340.00" y="559.98" width="10.00" height="2.06" fill="#005ab5"/>
<rect x="340.00" y="561.98" width="10.00" height="1.06" fill="#dc3220"/>
<rect x="350.00" y="547.98" width="21.00" height="1.06" fill="#005ab5"/>
<rect x="350.00" y="549.98" width="21.00" height="1.06" fill="#005ab5"/>
<rect x="350.00" y="552.98" width="21.00" height="1.06" fill="#005ab5"/>
<rect x="350.00" y="555.98" width="21.00" height="1.06" fill="#005ab5"/>
<rect x="350.00" y="557.98" width="21.00" height="1.06" fill="#dc3220"/>
<rect x="350.00" y="559.98" width="21.00" height="1.06" fill="#005ab5"/>
<rect x="350.00" y="561.98" width="21.00" height="1.06" fill="#dc3220"/>
<rect x="371.00" y="548.98" width="10.00" height="4.06" fill="#005ab5"/>
<rect x="371.00" y="553.98" width="10.00" height="2.06" fill="#005ab5"/>
<rect x="371.00" y="556.98" width="10.00" height="1.06" fill="#dc3220"/>
<rect x="371.00" y="557.98" width="10.00" height="2.06" fill="#005ab5"/>
<rect x="371.00" y="561.98" width="10.00" height="2.07" fill="#005ab5"/>
<rect x="381.00" y="547.98" width="10.00" height="16.07" fill="#005ab5"/>
<rect x="391.00" y="547.98" width="11.00" height="3.06" fill="#005ab5"/>
<rect x="391.00" y="552.98" width="11.00" height="1.06" fill="#005ab5"/>
<rect x="391.00" y="554.98" width="11.00" height="2.06" fill="#005ab5"/>
<rect x="391.00" y="558.98" width="11.00" height="2.06" fill="#005ab5"/>
<rect x="391.00" y="561.98" width="11.00" height="2.07" fill="#005ab5"/>
<rect x="402.00" y="550.98" width="10.00" height="2.06" fill="#005ab5"/>
<rect x="402.00" y="553.98" width="10.00" height="1.06" fill="#dc3220"/>
<rect x="402.00" y="554.98" width="10.00" height="3.06" fill="#005ab5"/>
<rect x="402.00" y="558.98" width="10.00" height="2.06" fill="#005ab5"/>
<rect x="402.00" y="561.98" width="10.00" height="2.07" fill="#005ab5"/>
<rect x="412.00" y="550.98" width="10.00" height="1.06" fill="#005ab5"/>
<rect x="412.00" y="552.98" width="10.00" height="2.06" fill="#005ab5"/>
<rect x="412.00" y="558.98" width="10.00" height="1.06" fill="#005ab5"/>
<rect x="412.00" y="561.98" width="10.00" height="2.07" fill="#005ab5"/>
<rect x="422.00" y="552.98" width="11.00" height="3.06" fill="#005ab5"/>
<rect x="422.00" y="558.98" width="11.00" height="1.06" fill="#005ab5"/>
<rect x="422.00" y="561.98" width="11.00" height="2.07" fill="#005ab5"/>
<rect x="433.00" y="547.98" width="10.00" height="2.06" fill="#005ab5"/>
<rect x="433.00" y="554.98" width="10.00" height="6.06" fill="#005ab5"/>
<rect x="433.00" y="561.98" width="10.00" height="1.06" fill="#dc3220"/>
<rect x="443.00" y="548.98" width="10.00" height="7.06" fill="#005ab5"/>
<rect x="443.00" y="558.98" width="10.00" height="5.07" fill="#005ab5"/>
<rect x="453.00" y="547.98" width="11.00" height="7.06" fill="#005ab5"/>
<rect x="464.00" y="547.98" width="10.00" height="1.06" fill="#dc3220"/>
<rect x="464.00" y="548.98" width="10.00" height="1.06" fill="#005ab5"/>
<rect x="464.00" y="550.98" width="10.00" height="1.06" fill="#005ab5"/>
<rect x="464.00" y="553.98" width="10.00" height="3.06" fill="#005ab5"/>
<rect x="464.00" y="557.98" width="10.00" height="1.06" fill="#005ab5"/>
<rect x="464.00" y="559.98" width="10.00" height="2.06" fill="#005ab5"/>
<rect x="464.00" y="561.98" width="10.00" height="1.06" fill="#dc3220"/>
<rect x="474.00" y="546.98" width="10.00" height="3.06" fill="#005ab5"/>
<rect x="474.00" y="551.98" width="10.00" height="2.06" fill="#005ab5"/>
<rect x="474.00" y="558.98" width="10.00" height="1.06" fill="#005ab5"/>
<rect x="474.00" y="560.98" width="10.00" height="1.06" fill="#005ab5"/>
<rect x="484.00" y="546.98" width="11.00" height="2.06" fill="#005ab5"/>
<rect x="484.00" y="550.98" width="11.00" height="4.06" fill="#005ab5"/>
<rect x="484.00" y="556.98" width="11.00" height="1.06" fill="#005ab5"/>
<rect x="484.00" y="558.98" width="11.00" height="1.06" fill="#005ab5"/>
<rect x="484.00" y="560.98" width="11.00" height="1.06" fill="#005ab5"/>
<rect x="495.00" y="546.98" width="20.00" height="2.06" fill="#005ab5"/>
<rect x="495.00" y="550.98" width="20.00" height="1.06" fill="#005ab5"/>
<rect x="495.00" y="552.98" width="20.00" height="1.06" fill="#005ab5"/>
<rect x="495.00" y="554.98" width="20.00" height="1.06" fill="#005ab5"/>
<rect x="495.00" y="556.98" width="20.00" height="1.06" fill="#005ab5"/>
<rect x="495.00" y="558.98" width="20.00" height="5.07" fill="#005ab5"/>
<rect x="515.00" y="550.98" width="11.00" height="1.06" fill="#005ab5"/>
<rect x="515.00" y="552.98" width="11.00" height="1.06" fill="#005ab5"/>
<rect x="515.00" y="555.98" width="11.00" height="8.07" fill="#005ab5"/>
<rect x="526.00" y="549.98" width="10.00" height="1.06" fill="#005ab5"/>
<rect x="526.00" y="556.98" width="10.00" height="1.06" fill="#005ab5"/>
<rect x="526.00" y="558.98" width="10.00" height="1.06" fill="#005ab5"/>
<rect x="536.00" y="548.98" width="10.00" height="1.06" fill="#005ab5"/>
<rect x="536.00" y="555.98" width="10.00" height="5.06" fill="#005ab5"/>
<rect x="546.00" y="547.98" width="21.00" height="1.06" fill="#005ab5"/>
<rect x="546.00" y="549.98" width="21.00" height="1.06" fill="#005ab5"/>
<rect x="546.00" y="551.98" width="21.00" height="1.06" fill="#005ab5"/>
<rect x="546.00" y="555.98" width="21.00" height="6.06" fill="#005ab5"/>
<rect x="567.00" y="548.98" width="10.00" height="1.06" fill="#005ab5"/>
<rect x="567.00" y="551.98" width="10.00" height="1.06" fill="#005ab5"/>
<rect x="567.00" y="555.98" width="10.00" height="4.06" fill="#005ab5"/>
<rect x="577.00" y="551.98" width="10.00" height="1.06" fill="#005ab5"/>
<rect x="577.00" y="553.98" width="10.00" height="1.06" fill="#005ab5"/>
<rect x="577.00" y="555.98" width="10.00" height="2.06" fill="#005ab5"/>
<rect x="577.00" y="558.98" width="10.00" height="5.07" fill="#005ab5"/>
<rect x="587.00" y="551.98" width="11.00" height="1.06" fill="#005ab5"/>
<rect x="587.00" y="553.98" width="11.00" height="1.06" fill="#005ab5"/>
<rect x="587.00" y="555.98" width="11.00" height="8.07" fill="#005ab5"/>
<rect x="598.00" y="552.98" width="10.00" height="1.06" fill="#005ab5"/>
<rect x="598.00" y="555.98" width="10.00" height="5.06" fill="#005ab5"/>
<rect x="598.00" y="561.98" width="10.00" height="1.06" fill="#dc3220"/>
<rect x="608.00" y="549.98" width="10.00" height="1.06" fill="#005ab5"/>
<rect x="608.00" y="551.98" width="10.00" height="3.06" fill="#005ab5"/>
<rect x="608.00" y="555.98" width="10.00" height="5.06" fill="#005ab5"/>
<rect x="608.00" y="561.98" width="10.00" height="1.06" fill="#dc3220"/>
<rect x="618.00" y="549.98" width="11.00" height="1.06" fill="#005ab5"/>
<rect x="618.00" y="551.98" width="11.00" height="3.06" fill="#005ab5"/>
<rect x="618.00" y="555.98" width="11.00" height="2.06" fill="#005ab5"/>
<rect x="618.00" y="558.98" width="11.00" height="5.07" fill="#005ab5"/>
<rect x="629.00" y="549.98" width="10.00" height="1.06" fill="#005ab5"/>
<rect x="629.00" y="551.98" width="10.00" height="3.06" fill="#005ab5"/>
<rect x="629.00" y="555.98" width="10.00" height="8.07" fill="#005ab5"/>
<rect x="639.00" y="549.98" width="10.00" height="1.06" fill="#005ab5"/>
<rect x="639.00" y="551.98" width="10.00" height="3.06" fill="#005ab5"/>
<rect x="639.00" y="556.98" width="10.00" height="1.06" fill="#005ab5"/>
<rect x="639.00" y="558.98" width="10.00" height="5.07" fill="#005ab5"/>
<rect x="649.00" y="549.98" width="11.00" height="1.06" fill="#005ab5"/>
<rect x="649.00" y="551.98" width="11.00" height="1.06" fill="#005ab5"/>
<rect x="649.00" y="553.98" width="11.00" height="1.06" fill="#005ab5"/>
<rect x="649.00" y="555.98" width="11.00" height="2.06" fill="#005ab5"/>
<rect x="649.00" y="558.98" width="11.00" height="1.06" fill="#005ab5"/>
<rect x="649.00" y="561.98" width="11.00" height="1.06" fill="#005ab5"/>
<rect x="660.00" y="552.98" width="10.00" height="1.06" fill="#005ab5"/>
<rect x="660.00" y="555.98" width="10.00" height="3.06" fill="#005ab5"/>
<rect x="660.00" y="559.98" width="10.00" height="2.06" fill="#005ab5"/>
<rect x="660.00" y="562.98" width="10.00" height="1.07" fill="#dc3220"/>
<rect x="670.00" y="555.98" width="10.00" height="3.06" fill="#005ab5"/>
<rect x="670.00" y="560.98" width="10.00" height="1.06" fill="#005ab5"/>
<rect x="680.00" y="549.98" width="11.00" height="1.06" fill="#005ab5"/>
<rect x="680.00" y="551.98" width="11.00" height="1.06" fill="#005ab5"/>
<rect x="680.00" y="553.98" width="11.00" height="1.06" fill="#005ab5"/>
<rect x="680.00" y="559.98" width="11.00" height="4.07" fill="#005ab5"/>
<rect x="691.00" y="549.98" width="20.00" height="1.06" fill="#005ab5"/>
<rect x="691.00" y="560.98" width="20.00" height="1.06" fill="#005ab5"/>
<rect x="691.00" y="562.98" width="20.00" height="1.07" fill="#005ab5"/>
<rect x="711.00" y="549.98" width="11.00" height="1.06" fill="#005ab5"/>
<rect x="711.00" y="551.98" width="11.00" height="2.06" fill="#005ab5"/>
<rect x="711.00" y="555.98" width="11.00" height="1.06" fill="#005ab5"/>
<rect x="711.00" y="557.98" width="11.00" height="1.06" fill="#005ab5"/>
<rect x="711.00" y="559.98" width="11.00" height="1.06" fill="#005ab5"/>
<rect x="711.00" y="561.98" width="11.00" height="2.07" fill="#005ab5"/>
<rect x="722.00" y="548.98" width="20.00" height="1.06" fill="#005ab5"/>
<rect x="722.00" y="549.98" width="20.00" height="1.06" fill="#005ab5"/>
<rect x="722.00" y="553.98" width="20.00" height="1.06" fill="#005ab5"/>
<rect x="722.00" y="555.98" width="20.00" height="4.06" fill="#005ab5"/>
<rect x="722.00" y="561.98" width="20.00" height="2.07" fill="#005ab5"/>
<rect x="309.00" y="563.98" width="31.00" height="2.06" fill="#fff"/>
<rect x="195.00" y="563.98" width="11.00" height="2.06" fill="#fff"/>
<rect x="391.00" y="563.98" width="21.00" height="2.06" fill="#fff"/>
<rect x="433.00" y="563.98" width="10.00" height="2.06" fill="#fff"/>
<rect x="453.00" y="563.98" width="21.00" height="2.06" fill="#fff"/>
<rect x="567.00" y="563.98" width="10.00" height="2.06" fill="#fff"/>
<rect x="649.00" y="563.98" width="11.00" height="2.06" fill="#fff"/>
<rect x="670.00" y="563.98" width="10.00" height="2.06" fill="#fff"/>
<rect x="195.00" y="567.97" width="11.00" height="1.10" fill="#fff"/>
<rect x="195.00" y="573.97" width="11.00" height="1.10" fill="#fff"/>
<rect x="195.00" y="579.97" width="11.00" height="1.10" fill="#fff"/>
<rect x="195.00" y="583.97" width="11.00" height="1.10" fill="#dc3220"/>
<rect x="195.00" y="585.98" width="11.00" height="2.10" fill="#fff"/>
<rect x="195.00" y="589.97" width="11.00" height="1.10" fill="#fff"/>
<rect x="195.00" y="591.97" width="11.00" height="1.10" fill="#fff"/>
<rect x="195.00" y="685.97" width="11.00" height="1.10" fill="#dc3220"/>
<rect x="189.00" y="574.97" width="6.00" height="1.10" fill="#dc3220"/>
<rect x="206.00" y="574.97" width="10.00" height="1.10" fill="#dc3220"/>
<rect x="216.00" y="598.98" width="10.00" height="2.10" fill="#fff"/>
<rect x="226.00" y="566.97" width="11.00" height="1.10" fill="#fff"/>
<rect x="226.00" y="573.98" width="11.00" height="2.10" fill="#fff"/>
<rect x="226.00" y="577.97" width="11.00" height="1.10" fill="#fff"/>
<rect x="288.00" y="569.97" width="21.00" height="1.10" fill="#dc3220"/>
<rect x="288.00" y="624.97" width="11.00" height="1.10" fill="#dc3220"/>
<rect x="278.00" y="723.97" width="10.00" height="1.10" fill="#dc3220"/>
<rect x="371.00" y="565.97" width="10.00" height="1.10" fill="#dc3220"/>
<rect x="371.00" y="584.97" width="10.00" height="1.10" fill="#fff"/>
<rect x="371.00" y="690.97" width="10.00" height="1.10" fill="#dc3220"/>
<rect x="371.00" y="574.97" width="20.00" height="1.10" fill="#dc3220"/>
<rect x="391.00" y="565.98" width="11.00" height="2.10" fill="#fff"/>
<rect x="391.00" y="569.97" width="11.00" height="1.10" fill="#fff"/>
<rect x="391.00" y="574.97" width="11.00" height="1.10" fill="#fff"/>
<rect x="391.00" y="588.97" width="11.00" height="1.10" fill="#fff"/>
<rect x="391.00" y="593.97" width="11.00" height="1.10" fill="#fff"/>
<rect x="412.00" y="565.97" width="10.00" height="1.10" fill="#fff"/>
<rect x="412.00" y="567.97" width="10.00" height="1.10" fill="#fff"/>
<rect x="422.00" y="600.97" width="11.00" height="1.10" fill="#fff"/>
<rect x="433.00" y="589.97" width="10.00" height="1.10" fill="#dc3220"/>
<rect x="443.00" y="568.97" width="10.00" height="1.10" fill="#fff"/>
<rect x="453.00" y="565.98" width="11.00" height="2.10" fill="#fff"/>
<rect x="453.00" y="569.98" width="11.00" height="2.10" fill="#fff"/>
<rect x="453.00" y="573.98" width="11.00" height="6.30" fill="#fff"/>
<rect x="453.00" y="592.97" width="11.00" height="1.10" fill="#fff"/>
<rect x="453.00" y="597.97" width="11.00" height="1.10" fill="#fff"/>
<rect x="453.00" y="723.97" width="11.00" height="1.10" fill="#dc3220"/>
<rect x="340.00" y="595.97" width="10.00" height="1.10" fill="#fff"/>
<rect x="340.00" y="720.97" width="31.00" height="1.10" fill="#dc3220"/>
<rect x="464.00" y="720.97" width="10.00" height="1.10" fill="#dc3220"/>
<rect x="474.00" y="574.97" width="10.00" height="1.10" fill="#dc3220"/>
<rect x="474.00" y="583.97" width="10.00" height="1.10" fill="#fff"/>
<rect x="495.00" y="574.97" width="10.00" height="1.10" fill="#dc3220"/>
<rect x="495.00" y="577.97" width="10.00" height="1.10" fill="#dc3220"/>
<rect x="495.00" y="580.97" width="10.00" height="1.10" fill="#fff"/>
<rect x="495.00" y="583.97" width="10.00" height="1.10" fill="#dc3220"/>
<rect x="495.00" y="587.97" width="10.00" height="1.10" fill="#dc3220"/>
<rect x="495.00" y="590.97" width="10.00" height="1.10" fill="#dc3220"/>
<rect x="495.00" y="594.97" width="10.00" height="1.10" fill="#fff"/>
<rect x="495.00" y="597.97" width="10.00" height="1.10" fill="#dc3220"/>
<rect x="495.00" y="602.97" width="10.00" height="1.10" fill="#fff"/>
<rect x="495.00" y="617.97" width="10.00" height="1.10" fill="#dc3220"/>
<rect x="495.00" y="622.97" width="10.00" height="1.10" fill="#dc3220"/>
<rect x="495.00" y="624.97" width="10.00" height="1.10" fill="#dc3220"/>
<rect x="495.00" y="672.97" width="10.00" height="1.10" fill="#dc3220"/>
<rect x="495.00" y="689.97" width="10.00" height="1.10" fill="#dc3220"/>
<rect x="495.00" y="699.97" width="10.00" height="1.10" fill="#dc3220"/>
<rect x="495.00" y="727.97" width="10.00" height="1.10" fill="#dc3220"/>
<rect x="495.00" y="740.97" width="10.00" height="1.10" fill="#dc3220"/>
<rect x="495.00" y="744.97" width="10.00" height="1.10" fill="#dc3220"/>
<rect x="495.00" y="746.97" width="10.00" height="1.10" fill="#dc3220"/>
<rect x="505.00" y="730.97" width="10.00" height="1.10" fill="#dc3220"/>
<rect x="515.00" y="566.97" width="11.00" height="1.10" fill="#fff"/>
<rect x="515.00" y="569.98" width="11.00" height="3.15" fill="#fff"/>
<rect x="526.00" y="574.97" width="10.00" height="1.10" fill="#dc3220"/>
<rect x="567.00" y="590.97" width="10.00" height="1.10" fill="#dc3220"/>
<rect x="567.00" y="609.97" width="10.00" height="1.10" fill="#dc3220"/>
<rect x="567.00" y="707.97" width="10.00" height="1.10" fill="#dc3220"/>
<rect x="567.00" y="725.97" width="10.00" height="1.10" fill="#dc3220"/>
<rect x="567.00" y="735.97" width="10.00" height="1.10" fill="#dc3220"/>
<rect x="567.00" y="568.97" width="31.00" height="1.10" fill="#fff"/>
<rect x="598.00" y="612.97" width="10.00" height="1.10" fill="#dc3220"/>
<rect x="608.00" y="589.97" width="10.00" height="1.10" fill="#dc3220"/>
<rect x="618.00" y="583.97" width="11.00" height="1.10" fill="#dc3220"/>
<rect x="618.00" y="590.97" width="11.00" height="1.10" fill="#fff"/>
<rect x="618.00" y="601.97" width="11.00" height="1.10" fill="#fff"/>
<rect x="618.00" y="604.97" width="11.00" height="1.10" fill="#dc3220"/>
<rect x="618.00" y="628.97" width="11.00" height="1.10" fill="#dc3220"/>
<rect x="618.00" y="667.97" width="11.00" height="1.10" fill="#dc3220"/>
<rect x="618.00" y="720.97" width="11.00" height="1.10" fill="#dc3220"/>
<rect x="618.00" y="735.97" width="11.00" height="1.10" fill="#dc3220"/>
<rect x="639.00" y="565.98" width="10.00" height="2.10" fill="#fff"/>
<rect x="639.00" y="569.98" width="10.00" height="2.10" fill="#fff"/>
<rect x="639.00" y="575.98" width="10.00" height="2.10" fill="#fff"/>
<rect x="639.00" y="578.97" width="10.00" height="1.10" fill="#fff"/>
<rect x="649.00" y="579.97" width="11.00" height="1.10" fill="#fff"/>
<rect x="649.00" y="582.97" width="11.00" height="1.10" fill="#fff"/>
<rect x="660.00" y="565.98" width="10.00" height="2.10" fill="#fff"/>
<rect x="660.00" y="568.98" width="10.00" height="3.15" fill="#fff"/>
<rect x="670.00" y="604.97" width="10.00" height="1.10" fill="#dc3220"/>
<rect x="670.00" y="628.97" width="10.00" height="1.10" fill="#dc3220"/>
<rect x="680.00" y="574.97" width="31.00" height="1.10" fill="#dc3220"/>
<rect x="691.00" y="565.97" width="20.00" height="1.10" fill="#fff"/>
<rect x="691.00" y="567.97" width="20.00" height="1.10" fill="#fff"/>
<rect x="691.00" y="572.97" width="31.00" height="1.10" fill="#fff"/>
<rect x="711.00" y="565.97" width="11.00" height="1.10" fill="#fff"/>
<rect x="711.00" y="580.97" width="11.00" height="1.10" fill="#fff"/>
<rect x="711.00" y="587.97" width="11.00" height="1.10" fill="#fff"/>
<rect x="722.00" y="569.97" width="20.00" height="1.10" fill="#dc3220"/>
<rect x="722.00" y="574.97" width="20.00" height="1.10" fill="#dc3220"/>
<rect x="722.00" y="581.97" width="10.00" height="1.10" fill="#fff"/>
<rect x="722.00" y="596.97" width="10.00" height="1.10" fill="#fff"/>
</g>
<rect x="180.00" y="232.90" width="9.00" height="285.00" fill="#7cdcfd"/>
<rect x="180.00" y="517.90" width="9.00" height="46.90" fill="#238b45"/>
<rect x="180.00" y="564.80" width="9.00" height="183.15" fill="#f7a507"/>
<rect x="738.70" y="232.90" width="8.75" height="285.00" fill="#7cdcfd"/>
<rect x="738.70" y="517.90" width="8.75" height="46.90" fill="#238b45"/>
<rect x="738.70" y="564.80" width="8.75" height="183.15" fill="#f7a507"/>
<rect x="183.7" y="231.8" width="559.1" height="1.2" fill="#79deff" fill-opacity="0.75"/>
<rect x="183.7" y="516.95" width="559.1" height="1.9" fill="#238b45" fill-opacity="0.42"/>
<rect x="183.7" y="563.93" width="559.1" height="1.12" fill="#f7a507" fill-opacity="0.6"/>
<g transform="translate(178.60 246.20)" font-size="9.47" fill="#2a3f5f"><text transform="scale(0.9700 1)" x="-141.99 -134.74 -127.93 -121.80" y="0">GCA_</text><text transform="scale(1.1107 1)" x="-102.01 -96.74 -91.48 -86.21 -80.95 -75.68 -70.42 -65.16 -59.89 -54.63 -52.00" y="0">000459855.1</text><text transform="scale(0.9700 1)" x="-53.77 -48.88 -41.93 -35.01 -29.11" y="0">_CDS_</text><text transform="scale(1.1107 1)" x="-21.06 -15.79 -10.53 -5.26" y="0">4198</text></g>
<g transform="translate(178.60 256.20)" font-size="9.47" fill="#2a3f5f"><text transform="scale(0.9700 1)" x="-141.99 -134.74 -127.93 -121.80" y="0">GCA_</text><text transform="scale(1.1107 1)" x="-102.01 -96.74 -91.48 -86.21 -80.95 -75.68 -70.42 -65.16 -59.89 -54.63 -52.00" y="0">910579235.1</text><text transform="scale(0.9700 1)" x="-53.77 -48.88 -41.93 -35.01 -29.11" y="0">_CDS_</text><text transform="scale(1.1107 1)" x="-21.06 -15.79 -10.53 -5.26" y="0">2648</text></g>
<g transform="translate(178.60 267.20)" font-size="9.47" fill="#2a3f5f"><text transform="scale(0.9700 1)" x="-141.99 -134.74 -127.93 -121.80" y="0">GCA_</text><text transform="scale(1.1107 1)" x="-102.01 -96.74 -91.48 -86.21 -80.95 -75.68 -70.42 -65.16 -59.89 -54.63 -52.00" y="0">910579235.1</text><text transform="scale(0.9700 1)" x="-53.77 -48.88 -41.93 -35.01 -29.11" y="0">_CDS_</text><text transform="scale(1.1107 1)" x="-21.06 -15.79 -10.53 -5.26" y="0">4213</text></g>
<g transform="translate(178.60 278.20)" font-size="9.47" fill="#2a3f5f"><text transform="scale(0.9700 1)" x="-141.99 -134.74 -127.93 -121.80" y="0">GCA_</text><text transform="scale(1.1107 1)" x="-102.01 -96.74 -91.48 -86.21 -80.95 -75.68 -70.42 -65.16 -59.89 -54.63 -52.00" y="0">003046645.1</text><text transform="scale(0.9700 1)" x="-53.77 -48.88 -41.93 -35.01 -29.11" y="0">_CDS_</text><text transform="scale(1.1107 1)" x="-21.06 -15.79 -10.53 -5.26" y="0">3565</text></g>
<g transform="translate(178.60 289.20)" font-size="9.47" fill="#2a3f5f"><text transform="scale(0.9700 1)" x="-141.99 -134.74 -127.93 -121.80" y="0">GCA_</text><text transform="scale(1.1107 1)" x="-102.01 -96.74 -91.48 -86.21 -80.95 -75.68 -70.42 -65.16 -59.89 -54.63 -52.00" y="0">000208525.2</text><text transform="scale(0.9700 1)" x="-53.77 -48.88 -41.93 -35.01 -29.11" y="0">_CDS_</text><text transform="scale(1.1107 1)" x="-21.06 -15.79 -10.53 -5.26" y="0">0595</text></g>
<g transform="translate(178.60 299.20)" font-size="9.47" fill="#2a3f5f"><text transform="scale(0.9700 1)" x="-141.99 -134.74 -127.93 -121.80" y="0">GCA_</text><text transform="scale(1.1107 1)" x="-102.01 -96.74 -91.48 -86.21 -80.95 -75.68 -70.42 -65.16 -59.89 -54.63 -52.00" y="0">001630835.1</text><text transform="scale(0.9700 1)" x="-53.77 -48.88 -41.93 -35.01 -29.11" y="0">_CDS_</text><text transform="scale(1.1107 1)" x="-21.06 -15.79 -10.53 -5.26" y="0">3325</text></g>
<g transform="translate(178.60 310.20)" font-size="9.47" fill="#2a3f5f"><text transform="scale(0.9700 1)" x="-141.99 -134.74 -127.93 -121.80" y="0">GCA_</text><text transform="scale(1.1107 1)" x="-102.01 -96.74 -91.48 -86.21 -80.95 -75.68 -70.42 -65.16 -59.89 -54.63 -52.00" y="0">000208445.2</text><text transform="scale(0.9700 1)" x="-53.77 -48.88 -41.93 -35.01 -29.11" y="0">_CDS_</text><text transform="scale(1.1107 1)" x="-21.06 -15.79 -10.53 -5.26" y="0">2739</text></g>
<g transform="translate(178.60 321.20)" font-size="9.47" fill="#2a3f5f"><text transform="scale(0.9700 1)" x="-141.99 -134.74 -127.93 -121.80" y="0">GCA_</text><text transform="scale(1.1107 1)" x="-102.01 -96.74 -91.48 -86.21 -80.95 -75.68 -70.42 -65.16 -59.89 -54.63 -52.00" y="0">000208585.2</text><text transform="scale(0.9700 1)" x="-53.77 -48.88 -41.93 -35.01 -29.11" y="0">_CDS_</text><text transform="scale(1.1107 1)" x="-21.06 -15.79 -10.53 -5.26" y="0">4082</text></g>
<g transform="translate(178.60 332.20)" font-size="9.47" fill="#2a3f5f"><text transform="scale(0.9700 1)" x="-141.99 -134.74 -127.93 -121.80" y="0">GCA_</text><text transform="scale(1.1107 1)" x="-102.01 -96.74 -91.48 -86.21 -80.95 -75.68 -70.42 -65.16 -59.89 -54.63 -52.00" y="0">002965705.1</text><text transform="scale(0.9700 1)" x="-53.77 -48.88 -41.93 -35.01 -29.11" y="0">_CDS_</text><text transform="scale(1.1107 1)" x="-21.06 -15.79 -10.53 -5.26" y="0">2350</text></g>
<g transform="translate(178.60 342.20)" font-size="9.47" fill="#2a3f5f"><text transform="scale(0.9700 1)" x="-141.99 -134.74 -127.93 -121.80" y="0">GCA_</text><text transform="scale(1.1107 1)" x="-102.01 -96.74 -91.48 -86.21 -80.95 -75.68 -70.42 -65.16 -59.89 -54.63 -52.00" y="0">005280595.1</text><text transform="scale(0.9700 1)" x="-53.77 -48.88 -41.93 -35.01 -29.11" y="0">_CDS_</text><text transform="scale(1.1107 1)" x="-21.06 -15.79 -10.53 -5.26" y="0">3321</text></g>
<g transform="translate(178.60 353.20)" font-size="9.47" fill="#2a3f5f"><text transform="scale(0.9700 1)" x="-141.99 -134.74 -127.93 -121.80" y="0">GCA_</text><text transform="scale(1.1107 1)" x="-102.01 -96.74 -91.48 -86.21 -80.95 -75.68 -70.42 -65.16 -59.89 -54.63 -52.00" y="0">000398885.1</text><text transform="scale(0.9700 1)" x="-53.77 -48.88 -41.93 -35.01 -29.11" y="0">_CDS_</text><text transform="scale(1.1107 1)" x="-21.06 -15.79 -10.53 -5.26" y="0">0652</text></g>
<g transform="translate(178.60 364.20)" font-size="9.47" fill="#2a3f5f"><text transform="scale(0.9700 1)" x="-141.99 -134.74 -127.93 -121.80" y="0">GCA_</text><text transform="scale(1.1107 1)" x="-102.01 -96.74 -91.48 -86.21 -80.95 -75.68 -70.42 -65.16 -59.89 -54.63 -52.00" y="0">013368915.2</text><text transform="scale(0.9700 1)" x="-53.77 -48.88 -41.93 -35.01 -29.11" y="0">_CDS_</text><text transform="scale(1.1107 1)" x="-21.06 -15.79 -10.53 -5.26" y="0">0013</text></g>
<g transform="translate(178.60 375.20)" font-size="9.47" fill="#2a3f5f"><text transform="scale(0.9700 1)" x="-141.99 -134.74 -127.93 -121.80" y="0">GCA_</text><text transform="scale(1.1107 1)" x="-102.01 -96.74 -91.48 -86.21 -80.95 -75.68 -70.42 -65.16 -59.89 -54.63 -52.00" y="0">020783085.1</text><text transform="scale(0.9700 1)" x="-53.77 -48.88 -41.93 -35.01 -29.11" y="0">_CDS_</text><text transform="scale(1.1107 1)" x="-21.06 -15.79 -10.53 -5.26" y="0">4247</text></g>
<g transform="translate(178.60 385.20)" font-size="9.47" fill="#2a3f5f"><text transform="scale(0.9700 1)" x="-141.99 -134.74 -127.93 -121.80" y="0">GCA_</text><text transform="scale(1.1107 1)" x="-102.01 -96.74 -91.48 -86.21 -80.95 -75.68 -70.42 -65.16 -59.89 -54.63 -52.00" y="0">020783085.1</text><text transform="scale(0.9700 1)" x="-53.77 -48.88 -41.93 -35.01 -29.11" y="0">_CDS_</text><text transform="scale(1.1107 1)" x="-21.06 -15.79 -10.53 -5.26" y="0">1615</text></g>
<g transform="translate(178.60 396.20)" font-size="9.47" fill="#2a3f5f"><text transform="scale(0.9700 1)" x="-141.99 -134.74 -127.93 -121.80" y="0">GCA_</text><text transform="scale(1.1107 1)" x="-102.01 -96.74 -91.48 -86.21 -80.95 -75.68 -70.42 -65.16 -59.89 -54.63 -52.00" y="0">019839385.1</text><text transform="scale(0.9700 1)" x="-53.77 -48.88 -41.93 -35.01 -29.11" y="0">_CDS_</text><text transform="scale(1.1400 1)" x="-20.58 -15.45 -10.33 -5.20" y="0">1150</text></g>
<g transform="translate(178.60 407.20)" font-size="9.47" fill="#2a3f5f"><text transform="scale(0.9700 1)" x="-141.99 -134.74 -127.93 -121.80" y="0">GCA_</text><text transform="scale(1.1107 1)" x="-102.01 -96.74 -91.48 -86.21 -80.95 -75.68 -70.42 -65.16 -59.89 -54.63 -52.00" y="0">019839675.1</text><text transform="scale(0.9700 1)" x="-53.77 -48.88 -41.93 -35.01 -29.11" y="0">_CDS_</text><text transform="scale(1.1107 1)" x="-21.06 -15.79 -10.53 -5.26" y="0">1349</text></g>
<g transform="translate(178.60 418.20)" font-size="9.47" fill="#2a3f5f"><text transform="scale(0.9700 1)" x="-141.99 -134.74 -127.93 -121.80" y="0">GCA_</text><text transform="scale(1.1107 1)" x="-102.01 -96.74 -91.48 -86.21 -80.95 -75.68 -70.42 -65.16 -59.89 -54.63 -52.00" y="0">916618735.1</text><text transform="scale(0.9700 1)" x="-53.77 -48.88 -41.93 -35.01 -29.11" y="0">_CDS_</text><text transform="scale(1.1107 1)" x="-21.06 -15.79 -10.53 -5.26" y="0">2520</text></g>
<g transform="translate(178.60 428.20)" font-size="9.47" fill="#2a3f5f"><text transform="scale(0.9700 1)" x="-141.99 -134.74 -127.93 -121.80" y="0">GCA_</text><text transform="scale(1.1107 1)" x="-102.01 -96.74 -91.48 -86.21 -80.95 -75.68 -70.42 -65.16 -59.89 -54.63 -52.00" y="0">000208525.2</text><text transform="scale(0.9700 1)" x="-53.77 -48.88 -41.93 -35.01 -29.11" y="0">_CDS_</text><text transform="scale(1.1107 1)" x="-21.06 -15.79 -10.53 -5.26" y="0">0288</text></g>
<g transform="translate(178.60 439.20)" font-size="9.47" fill="#2a3f5f"><text transform="scale(0.9700 1)" x="-141.99 -134.74 -127.93 -121.80" y="0">GCA_</text><text transform="scale(1.1107 1)" x="-102.01 -96.74 -91.48 -86.21 -80.95 -75.68 -70.42 -65.16 -59.89 -54.63 -52.00" y="0">013369275.2</text><text transform="scale(0.9700 1)" x="-53.77 -48.88 -41.93 -35.01 -29.11" y="0">_CDS_</text><text transform="scale(1.1107 1)" x="-21.06 -15.79 -10.53 -5.26" y="0">1951</text></g>
<g transform="translate(178.60 450.20)" font-size="9.47" fill="#2a3f5f"><text transform="scale(0.9700 1)" x="-141.99 -134.74 -127.93 -121.80" y="0">GCA_</text><text transform="scale(1.1107 1)" x="-102.01 -96.74 -91.48 -86.21 -80.95 -75.68 -70.42 -65.16 -59.89 -54.63 -52.00" y="0">021725975.1</text><text transform="scale(0.9700 1)" x="-53.77 -48.88 -41.93 -35.01 -29.11" y="0">_CDS_</text><text transform="scale(1.1107 1)" x="-21.06 -15.79 -10.53 -5.26" y="0">4131</text></g>
<g transform="translate(178.60 461.20)" font-size="9.47" fill="#2a3f5f"><text transform="scale(0.9700 1)" x="-141.99 -134.74 -127.93 -121.80" y="0">GCA_</text><text transform="scale(1.1107 1)" x="-102.01 -96.74 -91.48 -86.21 -80.95 -75.68 -70.42 -65.16 -59.89 -54.63 -52.00" y="0">019840805.1</text><text transform="scale(0.9700 1)" x="-53.77 -48.88 -41.93 -35.01 -29.11" y="0">_CDS_</text><text transform="scale(1.1107 1)" x="-21.06 -15.79 -10.53 -5.26" y="0">0346</text></g>
<g transform="translate(178.60 471.20)" font-size="9.47" fill="#2a3f5f"><text transform="scale(0.9700 1)" x="-141.99 -134.74 -127.93 -121.80" y="0">GCA_</text><text transform="scale(1.1107 1)" x="-102.01 -96.74 -91.48 -86.21 -80.95 -75.68 -70.42 -65.16 -59.89 -54.63 -52.00" y="0">021725975.1</text><text transform="scale(0.9700 1)" x="-53.77 -48.88 -41.93 -35.01 -29.11" y="0">_CDS_</text><text transform="scale(1.1107 1)" x="-21.06 -15.79 -10.53 -5.26" y="0">3978</text></g>
<g transform="translate(178.60 482.20)" font-size="9.47" fill="#2a3f5f"><text transform="scale(0.9700 1)" x="-141.99 -134.74 -127.93 -121.80" y="0">GCA_</text><text transform="scale(1.1107 1)" x="-102.01 -96.74 -91.48 -86.21 -80.95 -75.68 -70.42 -65.16 -59.89 -54.63 -52.00" y="0">021725975.1</text><text transform="scale(0.9700 1)" x="-53.77 -48.88 -41.93 -35.01 -29.11" y="0">_CDS_</text><text transform="scale(1.1107 1)" x="-21.06 -15.79 -10.53 -5.26" y="0">0126</text></g>
<g transform="translate(178.60 493.20)" font-size="9.47" fill="#2a3f5f"><text transform="scale(0.9700 1)" x="-141.99 -134.74 -127.93 -121.80" y="0">GCA_</text><text transform="scale(1.1107 1)" x="-102.01 -96.74 -91.48 -86.21 -80.95 -75.68 -70.42 -65.16 -59.89 -54.63 -52.00" y="0">019840835.1</text><text transform="scale(0.9700 1)" x="-53.77 -48.88 -41.93 -35.01 -29.11" y="0">_CDS_</text><text transform="scale(1.1107 1)" x="-21.06 -15.79 -10.53 -5.26" y="0">0959</text></g>
<g transform="translate(178.60 504.20)" font-size="9.47" fill="#2a3f5f"><text transform="scale(0.9700 1)" x="-141.99 -134.74 -127.93 -121.80" y="0">GCA_</text><text transform="scale(1.1107 1)" x="-102.01 -96.74 -91.48 -86.21 -80.95 -75.68 -70.42 -65.16 -59.89 -54.63 -52.00" y="0">019840505.1</text><text transform="scale(0.9700 1)" x="-53.77 -48.88 -41.93 -35.01 -29.11" y="0">_CDS_</text><text transform="scale(1.1107 1)" x="-21.06 -15.79 -10.53 -5.26" y="0">1310</text></g>
<g transform="translate(178.60 514.20)" font-size="9.47" fill="#2a3f5f"><text transform="scale(0.9700 1)" x="-141.99 -134.74 -127.93 -121.80" y="0">GCA_</text><text transform="scale(1.1107 1)" x="-102.01 -96.74 -91.48 -86.21 -80.95 -75.68 -70.42 -65.16 -59.89 -54.63 -52.00" y="0">013425105.1</text><text transform="scale(0.9700 1)" x="-53.77 -48.88 -41.93 -35.01 -29.11" y="0">_CDS_</text><text transform="scale(1.1107 1)" x="-21.06 -15.79 -10.53 -5.26" y="0">1936</text></g>
<g transform="translate(178.60 525.20)" font-size="9.47" fill="#2a3f5f"><text transform="scale(0.9700 1)" x="-141.99 -134.74 -127.93 -121.80" y="0">GCA_</text><text transform="scale(1.1107 1)" x="-102.01 -96.74 -91.48 -86.21 -80.95 -75.68 -70.42 -65.16 -59.89 -54.63 -52.00" y="0">013369235.2</text><text transform="scale(0.9700 1)" x="-53.77 -48.88 -41.93 -35.01 -29.11" y="0">_CDS_</text><text transform="scale(1.1107 1)" x="-21.06 -15.79 -10.53 -5.26" y="0">1862</text></g>
<g transform="translate(178.60 536.20)" font-size="9.47" fill="#2a3f5f"><text transform="scale(0.9700 1)" x="-141.99 -134.74 -127.93 -121.80" y="0">GCA_</text><text transform="scale(1.1107 1)" x="-102.01 -96.74 -91.48 -86.21 -80.95 -75.68 -70.42 -65.16 -59.89 -54.63 -52.00" y="0">019839465.1</text><text transform="scale(0.9700 1)" x="-53.77 -48.88 -41.93 -35.01 -29.11" y="0">_CDS_</text><text transform="scale(1.1107 1)" x="-21.06 -15.79 -10.53 -5.26" y="0">0166</text></g>
<g transform="translate(178.60 547.20)" font-size="9.47" fill="#2a3f5f"><text transform="scale(0.9700 1)" x="-141.99 -134.74 -127.93 -121.80" y="0">GCA_</text><text transform="scale(1.1107 1)" x="-102.01 -96.74 -91.48 -86.21 -80.95 -75.68 -70.42 -65.16 -59.89 -54.63 -52.00" y="0">002965705.1</text><text transform="scale(0.9700 1)" x="-53.77 -48.88 -41.93 -35.01 -29.11" y="0">_CDS_</text><text transform="scale(1.1107 1)" x="-21.06 -15.79 -10.53 -5.26" y="0">1945</text></g>
<g transform="translate(178.60 557.20)" font-size="9.47" fill="#2a3f5f"><text transform="scale(0.9700 1)" x="-141.99 -134.74 -127.93 -121.80" y="0">GCA_</text><text transform="scale(1.1107 1)" x="-102.01 -96.74 -91.48 -86.21 -80.95 -75.68 -70.42 -65.16 -59.89 -54.63 -52.00" y="0">013368915.2</text><text transform="scale(0.9700 1)" x="-53.77 -48.88 -41.93 -35.01 -29.11" y="0">_CDS_</text><text transform="scale(1.1107 1)" x="-21.06 -15.79 -10.53 -5.26" y="0">1282</text></g>
<g transform="translate(178.60 568.20)" font-size="9.47" fill="#2a3f5f"><text transform="scale(0.9700 1)" x="-141.99 -134.74 -127.93 -121.80" y="0">GCA_</text><text transform="scale(1.1107 1)" x="-102.01 -96.74 -91.48 -86.21 -80.95 -75.68 -70.42 -65.16 -59.89 -54.63 -52.00" y="0">005400045.1</text><text transform="scale(0.9700 1)" x="-53.77 -48.88 -41.93 -35.01 -29.11" y="0">_CDS_</text><text transform="scale(1.1107 1)" x="-21.06 -15.79 -10.53 -5.26" y="0">3328</text></g>
<g transform="translate(178.60 579.20)" font-size="9.47" fill="#2a3f5f"><text transform="scale(0.9700 1)" x="-141.99 -134.74 -127.93 -121.80" y="0">GCA_</text><text transform="scale(1.1107 1)" x="-102.01 -96.74 -91.48 -86.21 -80.95 -75.68 -70.42 -65.16 -59.89 -54.63 -52.00" y="0">019840085.1</text><text transform="scale(0.9700 1)" x="-53.77 -48.88 -41.93 -35.01 -29.11" y="0">_CDS_</text><text transform="scale(1.1107 1)" x="-21.06 -15.79 -10.53 -5.26" y="0">0164</text></g>
<g transform="translate(178.60 590.20)" font-size="9.47" fill="#2a3f5f"><text transform="scale(0.9700 1)" x="-141.99 -134.74 -127.93 -121.80" y="0">GCA_</text><text transform="scale(1.1107 1)" x="-102.01 -96.74 -91.48 -86.21 -80.95 -75.68 -70.42 -65.16 -59.89 -54.63 -52.00" y="0">903932105.1</text><text transform="scale(0.9700 1)" x="-53.77 -48.88 -41.93 -35.01 -29.11" y="0">_CDS_</text><text transform="scale(1.1107 1)" x="-21.06 -15.79 -10.53 -5.26" y="0">2284</text></g>
<g transform="translate(178.60 600.20)" font-size="9.47" fill="#2a3f5f"><text transform="scale(0.9700 1)" x="-141.99 -134.74 -127.93 -121.80" y="0">GCA_</text><text transform="scale(1.1107 1)" x="-102.01 -96.74 -91.48 -86.21 -80.95 -75.68 -70.42 -65.16 -59.89 -54.63 -52.00" y="0">019840085.1</text><text transform="scale(0.9700 1)" x="-53.77 -48.88 -41.93 -35.01 -29.11" y="0">_CDS_</text><text transform="scale(1.1107 1)" x="-21.06 -15.79 -10.53 -5.26" y="0">2436</text></g>
<g transform="translate(178.60 611.20)" font-size="9.47" fill="#2a3f5f"><text transform="scale(0.9700 1)" x="-141.99 -134.74 -127.93 -121.80" y="0">GCA_</text><text transform="scale(1.1107 1)" x="-102.01 -96.74 -91.48 -86.21 -80.95 -75.68 -70.42 -65.16 -59.89 -54.63 -52.00" y="0">005400045.1</text><text transform="scale(0.9700 1)" x="-53.77 -48.88 -41.93 -35.01 -29.11" y="0">_CDS_</text><text transform="scale(1.1107 1)" x="-21.06 -15.79 -10.53 -5.26" y="0">0861</text></g>
<g transform="translate(178.60 622.20)" font-size="9.47" fill="#2a3f5f"><text transform="scale(0.9700 1)" x="-141.99 -134.74 -127.93 -121.80" y="0">GCA_</text><text transform="scale(1.1107 1)" x="-102.01 -96.74 -91.48 -86.21 -80.95 -75.68 -70.42 -65.16 -59.89 -54.63 -52.00" y="0">003027815.1</text><text transform="scale(0.9700 1)" x="-53.77 -48.88 -41.93 -35.01 -29.11" y="0">_CDS_</text><text transform="scale(1.1107 1)" x="-21.06 -15.79 -10.53 -5.26" y="0">0606</text></g>
<g transform="translate(178.60 633.20)" font-size="9.47" fill="#2a3f5f"><text transform="scale(0.9700 1)" x="-141.99 -134.74 -127.93 -121.80" y="0">GCA_</text><text transform="scale(1.1107 1)" x="-102.01 -96.74 -91.48 -86.21 -80.95 -75.68 -70.42 -65.16 -59.89 -54.63 -52.00" y="0">002965965.1</text><text transform="scale(0.9700 1)" x="-53.77 -48.88 -41.93 -35.01 -29.11" y="0">_CDS_</text><text transform="scale(1.1107 1)" x="-21.06 -15.79 -10.53 -5.26" y="0">3228</text></g>
<g transform="translate(178.60 643.20)" font-size="9.47" fill="#2a3f5f"><text transform="scale(0.9700 1)" x="-141.99 -134.74 -127.93 -121.80" y="0">GCA_</text><text transform="scale(1.1107 1)" x="-102.01 -96.74 -91.48 -86.21 -80.95 -75.68 -70.42 -65.16 -59.89 -54.63 -52.00" y="0">000208525.2</text><text transform="scale(0.9700 1)" x="-53.77 -48.88 -41.93 -35.01 -29.11" y="0">_CDS_</text><text transform="scale(1.1107 1)" x="-21.06 -15.79 -10.53 -5.26" y="0">2212</text></g>
<g transform="translate(178.60 654.20)" font-size="9.47" fill="#2a3f5f"><text transform="scale(0.9700 1)" x="-141.99 -134.74 -127.93 -121.80" y="0">GCA_</text><text transform="scale(1.1107 1)" x="-102.01 -96.74 -91.48 -86.21 -80.95 -75.68 -70.42 -65.16 -59.89 -54.63 -52.00" y="0">021725975.1</text><text transform="scale(0.9700 1)" x="-53.77 -48.88 -41.93 -35.01 -29.11" y="0">_CDS_</text><text transform="scale(1.1107 1)" x="-21.06 -15.79 -10.53 -5.26" y="0">0349</text></g>
<g transform="translate(178.60 665.20)" font-size="9.47" fill="#2a3f5f"><text transform="scale(0.9700 1)" x="-141.99 -134.74 -127.93 -121.80" y="0">GCA_</text><text transform="scale(1.1107 1)" x="-102.01 -96.74 -91.48 -86.21 -80.95 -75.68 -70.42 -65.16 -59.89 -54.63 -52.00" y="0">019839665.1</text><text transform="scale(0.9700 1)" x="-53.77 -48.88 -41.93 -35.01 -29.11" y="0">_CDS_</text><text transform="scale(1.1107 1)" x="-21.06 -15.79 -10.53 -5.26" y="0">2506</text></g>
<g transform="translate(178.60 676.20)" font-size="9.47" fill="#2a3f5f"><text transform="scale(0.9700 1)" x="-141.99 -134.74 -127.93 -121.80" y="0">GCA_</text><text transform="scale(1.1107 1)" x="-102.01 -96.74 -91.48 -86.21 -80.95 -75.68 -70.42 -65.16 -59.89 -54.63 -52.00" y="0">013368955.2</text><text transform="scale(0.9700 1)" x="-53.77 -48.88 -41.93 -35.01 -29.11" y="0">_CDS_</text><text transform="scale(1.1107 1)" x="-21.06 -15.79 -10.53 -5.26" y="0">2379</text></g>
<g transform="translate(178.60 686.20)" font-size="9.47" fill="#2a3f5f"><text transform="scale(0.9700 1)" x="-141.99 -134.74 -127.93 -121.80" y="0">GCA_</text><text transform="scale(1.1107 1)" x="-102.01 -96.74 -91.48 -86.21 -80.95 -75.68 -70.42 -65.16 -59.89 -54.63 -52.00" y="0">021307345.1</text><text transform="scale(0.9700 1)" x="-53.77 -48.88 -41.93 -35.01 -29.11" y="0">_CDS_</text><text transform="scale(1.1400 1)" x="-20.58 -15.45 -10.33 -5.20" y="0">1158</text></g>
<g transform="translate(178.60 697.20)" font-size="9.47" fill="#2a3f5f"><text transform="scale(0.9700 1)" x="-141.99 -134.74 -127.93 -121.80" y="0">GCA_</text><text transform="scale(1.1107 1)" x="-102.01 -96.74 -91.48 -86.21 -80.95 -75.68 -70.42 -65.16 -59.89 -54.63 -52.00" y="0">005280595.1</text><text transform="scale(0.9700 1)" x="-53.77 -48.88 -41.93 -35.01 -29.11" y="0">_CDS_</text><text transform="scale(1.1107 1)" x="-21.06 -15.79 -10.53 -5.26" y="0">1664</text></g>
<g transform="translate(178.60 708.20)" font-size="9.47" fill="#2a3f5f"><text transform="scale(0.9700 1)" x="-141.99 -134.74 -127.93 -121.80" y="0">GCA_</text><text transform="scale(1.1107 1)" x="-102.01 -96.74 -91.48 -86.21 -80.95 -75.68 -70.42 -65.16 -59.89 -54.63 -52.00" y="0">019840085.1</text><text transform="scale(0.9700 1)" x="-53.77 -48.88 -41.93 -35.01 -29.11" y="0">_CDS_</text><text transform="scale(1.1107 1)" x="-21.06 -15.79 -10.53 -5.26" y="0">2788</text></g>
<g transform="translate(178.60 719.20)" font-size="9.47" fill="#2a3f5f"><text transform="scale(0.9700 1)" x="-141.99 -134.74 -127.93 -121.80" y="0">GCA_</text><text transform="scale(1.1107 1)" x="-102.01 -96.74 -91.48 -86.21 -80.95 -75.68 -70.42 -65.16 -59.89 -54.63 -52.00" y="0">001630835.1</text><text transform="scale(0.9700 1)" x="-53.77 -48.88 -41.93 -35.01 -29.11" y="0">_CDS_</text><text transform="scale(1.1107 1)" x="-21.06 -15.79 -10.53 -5.26" y="0">4057</text></g>
<g transform="translate(178.60 729.20)" font-size="9.47" fill="#2a3f5f"><text transform="scale(0.9700 1)" x="-141.99 -134.74 -127.93 -121.80" y="0">GCA_</text><text transform="scale(1.1107 1)" x="-102.01 -96.74 -91.48 -86.21 -80.95 -75.68 -70.42 -65.16 -59.89 -54.63 -52.00" y="0">019839465.1</text><text transform="scale(0.9700 1)" x="-53.77 -48.88 -41.93 -35.01 -29.11" y="0">_CDS_</text><text transform="scale(1.1107 1)" x="-21.06 -15.79 -10.53 -5.26" y="0">1919</text></g>
<g transform="translate(178.60 740.20)" font-size="9.47" fill="#2a3f5f"><text transform="scale(0.9700 1)" x="-141.99 -134.74 -127.93 -121.80" y="0">GCA_</text><text transform="scale(1.1107 1)" x="-102.01 -96.74 -91.48 -86.21 -80.95 -75.68 -70.42 -65.16 -59.89 -54.63 -52.00" y="0">002965005.1</text><text transform="scale(0.9700 1)" x="-53.77 -48.88 -41.93 -35.01 -29.11" y="0">_CDS_</text><text transform="scale(1.1107 1)" x="-21.06 -15.79 -10.53 -5.26" y="0">2330</text></g>
<g transform="translate(178.60 751.20)" font-size="9.47" fill="#2a3f5f"><text transform="scale(0.9700 1)" x="-141.99 -134.74 -127.93 -121.80" y="0">GCA_</text><text transform="scale(1.1107 1)" x="-102.01 -96.74 -91.48 -86.21 -80.95 -75.68 -70.42 -65.16 -59.89 -54.63 -52.00" y="0">019839675.1</text><text transform="scale(0.9700 1)" x="-53.77 -48.88 -41.93 -35.01 -29.11" y="0">_CDS_</text><text transform="scale(1.1107 1)" x="-21.06 -15.79 -10.53 -5.26" y="0">1881</text></g>
<g transform="translate(184.00 760.60) rotate(90)" font-size="11.18" fill="#2a3f5f"><text transform="scale(0.9700 1)" x="-0.01 8.54 16.58 23.82" y="0">GCA_</text><text transform="scale(1.1107 1)" x="25.96 32.17 38.39 44.60 50.82 57.03 63.25 69.47 75.68 81.90 85.00" y="0">020783085.1</text></g>
<g transform="translate(194.32 760.60) rotate(90)" font-size="11.18" fill="#2a3f5f"><text transform="scale(0.9700 1)" x="-0.01 8.54 16.28 22.60" y="0">GCF_</text><text transform="scale(1.1107 1)" x="24.89 31.11 37.33 43.54 49.76 55.97 62.19 68.40 74.62 80.83 83.94" y="0">000208465.1</text></g>
<g transform="translate(204.64 760.60) rotate(90)" font-size="11.18" fill="#2a3f5f"><text transform="scale(0.9700 1)" x="-0.01 8.54 16.58 23.82" y="0">GCA_</text><text transform="scale(1.1107 1)" x="25.96 32.17 38.39 44.60 50.82 57.03 63.25 69.47 75.68 81.90 85.00" y="0">019839665.1</text></g>
<g transform="translate(214.96 760.60) rotate(90)" font-size="11.18" fill="#2a3f5f"><text transform="scale(0.9700 1)" x="-0.01 8.54 16.58 23.82" y="0">GCA_</text><text transform="scale(1.1107 1)" x="25.96 32.17 38.39 44.60 50.82 57.03 63.25 69.47 75.68 81.90 85.00" y="0">018366075.1</text></g>
<g transform="translate(225.28 760.60) rotate(90)" font-size="11.18" fill="#2a3f5f"><text transform="scale(0.9700 1)" x="-0.01 8.54 16.58 23.82" y="0">GCA_</text><text transform="scale(1.1107 1)" x="25.96 32.17 38.39 44.60 50.82 57.03 63.25 69.47 75.68 81.90 85.00" y="0">002965965.1</text></g>
<g transform="translate(235.60 760.60) rotate(90)" font-size="11.18" fill="#2a3f5f"><text transform="scale(0.9700 1)" x="-0.01 8.54 16.58 23.82" y="0">GCA_</text><text transform="scale(1.1107 1)" x="25.96 32.17 38.39 44.60 50.82 57.03 63.25 69.47 75.68 81.90 85.00" y="0">019840085.1</text></g>
<g transform="translate(245.92 760.60) rotate(90)" font-size="11.18" fill="#2a3f5f"><text transform="scale(0.9700 1)" x="-0.01 8.54 16.58 23.82" y="0">GCA_</text><text transform="scale(1.1107 1)" x="25.96 32.17 38.39 44.60 50.82 57.03 63.25 69.47 75.68 81.90 85.00" y="0">019839385.1</text></g>
<g transform="translate(256.24 760.60) rotate(90)" font-size="11.18" fill="#2a3f5f"><text transform="scale(0.9700 1)" x="-0.01 8.54 16.58 23.82" y="0">GCA_</text><text transform="scale(1.1107 1)" x="25.96 32.17 38.39 44.60 50.82 57.03 63.25 69.47 75.68 81.90 85.00" y="0">019840505.1</text></g>
<g transform="translate(266.56 760.60) rotate(90)" font-size="11.18" fill="#2a3f5f"><text transform="scale(0.9700 1)" x="-0.01 8.54 16.58 23.82" y="0">GCA_</text><text transform="scale(1.1107 1)" x="25.96 32.17 38.39 44.60 50.82 57.03 63.25 69.47 75.68 81.90 85.00" y="0">019839675.1</text></g>
<g transform="translate(276.88 760.60) rotate(90)" font-size="11.18" fill="#2a3f5f"><text transform="scale(0.9700 1)" x="-0.01 8.54 16.58 23.82" y="0">GCA_</text><text transform="scale(1.1107 1)" x="25.96 32.17 38.39 44.60 50.82 57.03 63.25 69.47 75.68 81.90 85.00" y="0">013369245.2</text></g>
<g transform="translate(287.20 760.60) rotate(90)" font-size="11.18" fill="#2a3f5f"><text transform="scale(0.9700 1)" x="-0.01 8.54 16.58 23.82" y="0">GCA_</text><text transform="scale(1.1107 1)" x="25.96 32.17 38.39 44.60 50.82 57.03 63.25 69.47 75.68 81.90 85.00" y="0">019840805.1</text></g>
<g transform="translate(297.52 760.60) rotate(90)" font-size="11.18" fill="#2a3f5f"><text transform="scale(0.9700 1)" x="-0.01 8.54 16.58 23.82" y="0">GCA_</text><text transform="scale(1.1107 1)" x="25.96 32.17 38.39 44.60 50.82 57.03 63.25 69.47 75.68 81.90 85.00" y="0">003027815.1</text></g>
<g transform="translate(307.84 760.60) rotate(90)" font-size="11.18" fill="#2a3f5f"><text transform="scale(0.9700 1)" x="-0.01 8.54 16.58 23.82" y="0">GCA_</text><text transform="scale(1.1107 1)" x="25.96 32.17 38.39 44.60 50.82 57.03 63.25 69.47 75.68 81.90 85.00" y="0">019840835.1</text></g>
<g transform="translate(318.16 760.60) rotate(90)" font-size="11.18" fill="#2a3f5f"><text transform="scale(0.9700 1)" x="-0.01 8.54 16.58 23.82" y="0">GCA_</text><text transform="scale(1.1107 1)" x="25.96 32.17 38.39 44.60 50.82 57.03 63.25 69.47 75.68 81.90 85.00" y="0">019840475.1</text></g>
<g transform="translate(328.48 760.60) rotate(90)" font-size="11.18" fill="#2a3f5f"><text transform="scale(0.9700 1)" x="-0.01 8.54 16.58 23.82" y="0">GCA_</text><text transform="scale(1.1107 1)" x="25.96 32.17 38.39 44.60 50.82 57.03 63.25 69.47 75.68 81.90 85.00" y="0">019839765.1</text></g>
<g transform="translate(338.80 760.60) rotate(90)" font-size="11.18" fill="#2a3f5f"><text transform="scale(0.9700 1)" x="-0.01 8.54 16.58 23.82" y="0">GCA_</text><text transform="scale(1.1107 1)" x="25.96 32.17 38.39 44.60 50.82 57.03 63.25 69.47 75.68 81.90 85.00" y="0">000398885.1</text></g>
<g transform="translate(349.12 760.60) rotate(90)" font-size="11.18" fill="#2a3f5f"><text transform="scale(0.9700 1)" x="-0.01 8.54 16.58 23.82" y="0">GCA_</text><text transform="scale(1.1107 1)" x="25.96 32.17 38.39 44.60 50.82 57.03 63.25 69.47 75.68 81.90 85.00" y="0">902385855.1</text></g>
<g transform="translate(359.44 760.60) rotate(90)" font-size="11.18" fill="#2a3f5f"><text transform="scale(0.9700 1)" x="-0.01 8.54 16.28 22.60" y="0">GCF_</text><text transform="scale(1.1107 1)" x="24.89 31.11 37.33 43.54 49.76 55.97 62.19 68.40 74.62 80.83 83.94" y="0">000407925.1</text></g>
<g transform="translate(369.76 760.60) rotate(90)" font-size="11.18" fill="#2a3f5f"><text transform="scale(0.9700 1)" x="-0.01 8.54 16.58 23.82" y="0">GCA_</text><text transform="scale(1.1107 1)" x="25.96 32.17 38.39 44.60 50.82 57.03 63.25 69.47 75.68 81.90 85.00" y="0">013368915.2</text></g>
<g transform="translate(380.08 760.60) rotate(90)" font-size="11.18" fill="#2a3f5f"><text transform="scale(0.9700 1)" x="-0.01 8.54 16.58 23.82" y="0">GCA_</text><text transform="scale(1.1107 1)" x="25.96 32.17 38.39 44.60 50.82 57.03 63.25 69.47 75.68 81.90 85.00" y="0">021725975.1</text></g>
<g transform="translate(390.40 760.60) rotate(90)" font-size="11.18" fill="#2a3f5f"><text transform="scale(0.9700 1)" x="-0.01 8.54 16.58 23.82" y="0">GCA_</text><text transform="scale(1.1107 1)" x="25.96 32.17 38.39 44.60 50.82 57.03 63.25 69.47 75.68 81.90 85.00" y="0">002965435.1</text></g>
<g transform="translate(400.72 760.60) rotate(90)" font-size="11.18" fill="#2a3f5f"><text transform="scale(0.9700 1)" x="-0.01 8.54 16.58 23.82" y="0">GCA_</text><text transform="scale(1.1107 1)" x="25.96 32.17 38.39 44.60 50.82 57.03 63.25 69.47 75.68 81.90 85.00" y="0">903932105.1</text></g>
<g transform="translate(411.04 760.60) rotate(90)" font-size="11.18" fill="#2a3f5f"><text transform="scale(0.9700 1)" x="-0.01 8.54 16.58 23.82" y="0">GCA_</text><text transform="scale(1.1107 1)" x="25.96 32.17 38.39 44.60 50.82 57.03 63.25 69.47 75.68 81.90 85.00" y="0">003046645.1</text></g>
<g transform="translate(421.36 760.60) rotate(90)" font-size="11.18" fill="#2a3f5f"><text transform="scale(0.9700 1)" x="-0.01 8.54 16.58 23.82" y="0">GCA_</text><text transform="scale(1.1107 1)" x="25.96 32.17 38.39 44.60 50.82 57.03 63.25 69.47 75.68 81.90 85.00" y="0">019840185.1</text></g>
<g transform="translate(431.68 760.60) rotate(90)" font-size="11.18" fill="#2a3f5f"><text transform="scale(0.9700 1)" x="-0.01 8.54 16.58 23.82" y="0">GCA_</text><text transform="scale(1.1107 1)" x="25.96 32.17 38.39 44.60 50.82 57.03 63.25 69.47 75.68 81.90 85.00" y="0">013368955.2</text></g>
<g transform="translate(442.00 760.60) rotate(90)" font-size="11.18" fill="#2a3f5f"><text transform="scale(0.9700 1)" x="-0.01 8.54 16.58 23.82" y="0">GCA_</text><text transform="scale(1.1107 1)" x="25.96 32.17 38.39 44.60 50.82 57.03 63.25 69.47 75.68 81.90 85.00" y="0">000459855.1</text></g>
<g transform="translate(452.32 760.60) rotate(90)" font-size="11.18" fill="#2a3f5f"><text transform="scale(0.9700 1)" x="-0.01 8.54 16.58 23.82" y="0">GCA_</text><text transform="scale(1.1107 1)" x="25.96 32.17 38.39 44.60 50.82 57.03 63.25 69.47 75.68 81.90 85.00" y="0">002966005.1</text></g>
<g transform="translate(462.64 760.60) rotate(90)" font-size="11.18" fill="#2a3f5f"><text transform="scale(0.9700 1)" x="-0.01 8.54 16.28 22.60" y="0">GCF_</text><text transform="scale(1.1107 1)" x="24.89 31.11 37.33 43.54 49.76 55.97 62.19 68.40 74.62 80.83 83.94" y="0">024733345.1</text></g>
<g transform="translate(472.96 760.60) rotate(90)" font-size="11.18" fill="#2a3f5f"><text transform="scale(0.9700 1)" x="-0.01 8.54 16.58 23.82" y="0">GCA_</text><text transform="scale(1.1107 1)" x="25.96 32.17 38.39 44.60 50.82 57.03 63.25 69.47 75.68 81.90 85.00" y="0">013368855.2</text></g>
<g transform="translate(483.28 760.60) rotate(90)" font-size="11.18" fill="#2a3f5f"><text transform="scale(0.9700 1)" x="-0.01 8.54 16.58 23.82" y="0">GCA_</text><text transform="scale(1.1107 1)" x="25.96 32.17 38.39 44.60 50.82 57.03 63.25 69.47 75.68 81.90 85.00" y="0">000208445.2</text></g>
<g transform="translate(493.60 760.60) rotate(90)" font-size="11.18" fill="#2a3f5f"><text transform="scale(0.9700 1)" x="-0.01 8.54 16.58 23.82" y="0">GCA_</text><text transform="scale(1.1107 1)" x="25.96 32.17 38.39 44.60 50.82 57.03 63.25 69.47 75.68 81.90 85.00" y="0">001630835.1</text></g>
<g transform="translate(503.92 760.60) rotate(90)" font-size="11.18" fill="#2a3f5f"><text transform="scale(0.9700 1)" x="-0.01 8.54 16.58 23.82" y="0">GCA_</text><text transform="scale(1.1107 1)" x="25.96 32.17 38.39 44.60 50.82 57.03 63.25 69.47 75.68 81.90 85.00" y="0">000407765.1</text></g>
<g transform="translate(514.24 760.60) rotate(90)" font-size="11.18" fill="#2a3f5f"><text transform="scale(0.9700 1)" x="-0.01 8.54 16.58 23.82" y="0">GCA_</text><text transform="scale(1.1107 1)" x="25.96 32.17 38.39 44.60 50.82 57.03 63.25 69.47 75.68 81.90 85.00" y="0">002965985.1</text></g>
<g transform="translate(524.56 760.60) rotate(90)" font-size="11.18" fill="#2a3f5f"><text transform="scale(0.9700 1)" x="-0.01 8.54 16.58 23.82" y="0">GCA_</text><text transform="scale(1.1250 1)" x="25.59 31.72 37.86 44.00 50.13 56.27 62.41 68.54 74.68 80.84 83.88" y="0">002110245.1</text></g>
<g transform="translate(534.88 760.60) rotate(90)" font-size="11.18" fill="#2a3f5f"><text transform="scale(0.9700 1)" x="-0.01 8.54 16.58 23.82" y="0">GCA_</text><text transform="scale(1.1107 1)" x="25.96 32.17 38.39 44.60 50.82 57.03 63.25 69.47 75.68 81.90 85.00" y="0">905199925.1</text></g>
<g transform="translate(545.20 760.60) rotate(90)" font-size="11.18" fill="#2a3f5f"><text transform="scale(0.9700 1)" x="-0.01 8.54 16.58 23.82" y="0">GCA_</text><text transform="scale(1.1107 1)" x="25.96 32.17 38.39 44.60 50.82 57.03 63.25 69.47 75.68 81.90 85.00" y="0">013425105.1</text></g>
<g transform="translate(555.52 760.60) rotate(90)" font-size="11.18" fill="#2a3f5f"><text transform="scale(0.9700 1)" x="-0.01 8.54 16.58 23.82" y="0">GCA_</text><text transform="scale(1.1107 1)" x="25.96 32.17 38.39 44.60 50.82 57.03 63.25 69.47 75.68 81.90 85.00" y="0">005400045.1</text></g>
<g transform="translate(565.84 760.60) rotate(90)" font-size="11.18" fill="#2a3f5f"><text transform="scale(0.9700 1)" x="-0.01 8.54 16.28 22.60" y="0">GCF_</text><text transform="scale(1.1250 1)" x="24.54 30.67 36.81 42.95 49.08 55.22 61.36 67.49 73.63 79.79 82.83" y="0">000601195.1</text></g>
<g transform="translate(576.16 760.60) rotate(90)" font-size="11.18" fill="#2a3f5f"><text transform="scale(0.9700 1)" x="-0.01 8.54 16.58 23.82" y="0">GCA_</text><text transform="scale(1.1107 1)" x="25.96 32.17 38.39 44.60 50.82 57.03 63.25 69.47 75.68 81.90 85.00" y="0">021307345.1</text></g>
<g transform="translate(586.48 760.60) rotate(90)" font-size="11.18" fill="#2a3f5f"><text transform="scale(0.9700 1)" x="-0.01 8.54 16.58 23.82" y="0">GCA_</text><text transform="scale(1.1107 1)" x="25.96 32.17 38.39 44.60 50.82 57.03 63.25 69.47 75.68 81.90 85.00" y="0">916618735.1</text></g>
<g transform="translate(596.80 760.60) rotate(90)" font-size="11.18" fill="#2a3f5f"><text transform="scale(0.9700 1)" x="-0.01 8.54 16.58 23.82" y="0">GCA_</text><text transform="scale(1.1107 1)" x="25.96 32.17 38.39 44.60 50.82 57.03 63.25 69.47 75.68 81.90 85.00" y="0">902498915.1</text></g>
<g transform="translate(607.12 760.60) rotate(90)" font-size="11.18" fill="#2a3f5f"><text transform="scale(0.9700 1)" x="-0.01 8.54 16.28 22.60" y="0">GCF_</text><text transform="scale(1.1107 1)" x="24.89 31.11 37.33 43.54 49.76 55.97 62.19 68.40 74.62 80.83 83.94" y="0">003145355.1</text></g>
<g transform="translate(617.44 760.60) rotate(90)" font-size="11.18" fill="#2a3f5f"><text transform="scale(0.9700 1)" x="-0.01 8.54 16.58 23.82" y="0">GCA_</text><text transform="scale(1.1107 1)" x="25.96 32.17 38.39 44.60 50.82 57.03 63.25 69.47 75.68 81.90 85.00" y="0">000208585.2</text></g>
<g transform="translate(627.76 760.60) rotate(90)" font-size="11.18" fill="#2a3f5f"><text transform="scale(0.9700 1)" x="-0.01 8.54 16.58 23.82" y="0">GCA_</text><text transform="scale(1.1107 1)" x="25.96 32.17 38.39 44.60 50.82 57.03 63.25 69.47 75.68 81.90 85.00" y="0">013369275.2</text></g>
<g transform="translate(638.08 760.60) rotate(90)" font-size="11.18" fill="#2a3f5f"><text transform="scale(0.9700 1)" x="-0.01 8.54 16.28 22.60" y="0">GCF_</text><text transform="scale(1.1107 1)" x="24.89 31.11 37.33 43.54 49.76 55.97 62.19 68.40 74.62 80.83 83.94" y="0">002965765.1</text></g>
<g transform="translate(648.40 760.60) rotate(90)" font-size="11.18" fill="#2a3f5f"><text transform="scale(0.9700 1)" x="-0.01 8.54 16.58 23.82" y="0">GCA_</text><text transform="scale(1.1107 1)" x="25.96 32.17 38.39 44.60 50.82 57.03 63.25 69.47 75.68 81.90 85.00" y="0">000208525.2</text></g>
<g transform="translate(658.72 760.60) rotate(90)" font-size="11.18" fill="#2a3f5f"><text transform="scale(0.9700 1)" x="-0.01 8.54 16.58 23.82" y="0">GCA_</text><text transform="scale(1.1107 1)" x="25.96 32.17 38.39 44.60 50.82 57.03 63.25 69.47 75.68 81.90 85.00" y="0">002965705.1</text></g>
<g transform="translate(669.04 760.60) rotate(90)" font-size="11.18" fill="#2a3f5f"><text transform="scale(0.9700 1)" x="-0.01 8.54 16.58 23.82" y="0">GCA_</text><text transform="scale(1.1107 1)" x="25.96 32.17 38.39 44.60 50.82 57.03 63.25 69.47 75.68 81.90 85.00" y="0">910579235.1</text></g>
<g transform="translate(679.36 760.60) rotate(90)" font-size="11.18" fill="#2a3f5f"><text transform="scale(0.9700 1)" x="-0.01 8.54 16.58 23.82" y="0">GCA_</text><text transform="scale(1.1107 1)" x="25.96 32.17 38.39 44.60 50.82 57.03 63.25 69.47 75.68 81.90 85.00" y="0">019839365.1</text></g>
<g transform="translate(689.68 760.60) rotate(90)" font-size="11.18" fill="#2a3f5f"><text transform="scale(0.9700 1)" x="-0.01 8.54 16.58 23.82" y="0">GCA_</text><text transform="scale(1.1107 1)" x="25.96 32.17 38.39 44.60 50.82 57.03 63.25 69.47 75.68 81.90 85.00" y="0">019839465.1</text></g>
<g transform="translate(700.00 760.60) rotate(90)" font-size="11.18" fill="#2a3f5f"><text transform="scale(0.9700 1)" x="-0.01 8.54 16.58 23.82" y="0">GCA_</text><text transform="scale(1.1107 1)" x="25.96 32.17 38.39 44.60 50.82 57.03 63.25 69.47 75.68 81.90 85.00" y="0">019839605.1</text></g>
<g transform="translate(710.32 760.60) rotate(90)" font-size="11.18" fill="#2a3f5f"><text transform="scale(0.9700 1)" x="-0.01 8.54 16.58 23.82" y="0">GCA_</text><text transform="scale(1.1107 1)" x="25.96 32.17 38.39 44.60 50.82 57.03 63.25 69.47 75.68 81.90 85.00" y="0">005280595.1</text></g>
<g transform="translate(720.64 760.60) rotate(90)" font-size="11.18" fill="#2a3f5f"><text transform="scale(0.9700 1)" x="-0.01 8.54 16.58 23.82" y="0">GCA_</text><text transform="scale(1.1107 1)" x="25.96 32.17 38.39 44.60 50.82 57.03 63.25 69.47 75.68 81.90 85.00" y="0">002965005.1</text></g>
<g transform="translate(730.96 760.60) rotate(90)" font-size="11.18" fill="#2a3f5f"><text transform="scale(0.9700 1)" x="-0.01 8.54 16.58 23.82" y="0">GCA_</text><text transform="scale(1.1107 1)" x="25.96 32.17 38.39 44.60 50.82 57.03 63.25 69.47 75.68 81.90 85.00" y="0">013369235.2</text></g>
<g transform="translate(464.00 886.20)" font-size="12.86" fill="#2a3f5f"><text transform="scale(1.0628 1)" x="-28.34 -18.74 -11.40 -4.09 3.45 14.57 21.61" y="0">Genomes</text></g>
<g transform="translate(20.90 490.00) rotate(-90)" font-size="12.86" fill="#2a3f5f"><text transform="scale(1.0537 1)" x="-41.88 -32.21 -24.81 -17.41 -10.09 -6.94 -0.09 6.99 18.34 21.63 24.92 28.07 35.16" y="0">Gene Families</text></g>
<g transform="translate(761.70 106.50)" font-size="12.94" fill="#2a3f5f"><text transform="scale(1.0854 1)" x="-0.62 6.07 12.93 24.13 27.34 30.58 37.28 40.09 47.58 54.69 59.70 63.93 67.45 71.68 74.67 81.88" y="0">Family Partition</text></g>
<rect x="763.40" y="115.20" width="26.80" height="8.80" fill="#7cdcfd"/>
<g transform="translate(795.40 123.80)" font-size="11.02" fill="#2a3f5f"><text transform="scale(1.0614 1)" x="-0.46 7.22 9.86 16.14 22.53" y="0">Cloud</text></g>
<rect x="763.40" y="132.30" width="26.80" height="8.80" fill="#238b45"/>
<g transform="translate(795.40 140.90)" font-size="11.02" fill="#2a3f5f"><text transform="scale(1.0651 1)" x="-0.49 6.50 12.77 19.10 21.89" y="0">Shell</text></g>
<rect x="763.40" y="149.40" width="26.80" height="8.80" fill="#f7a507"/>
<g transform="translate(795.40 158.00)" font-size="11.02" fill="#2a3f5f"><text transform="scale(1.0802 1)" x="-0.69 5.78 11.92 15.61 21.10 23.53 29.27 32.73 38.91 45.53" y="0">Persistent</text></g>
<g transform="translate(768.40 353.30)" font-size="12.86" fill="#2a3f5f"><text transform="scale(1.0543 1)" x="-0.72 7.33 11.74 18.70 25.07 32.47 39.84 46.38 53.81 57.36 65.88 73.09 79.46 86.85 94.23 100.77" y="0">Presence/Absence</text></g>
<rect x="768.20" y="363.10" width="27.10" height="47.60" fill="#dc3220"/>
<rect x="768.20" y="410.70" width="27.10" height="46.40" fill="#005ab5"/>
<rect x="768.20" y="457.10" width="27.10" height="45.40" fill="#fff"/>
<rect x="768.2" y="363.1" width="27.1" height="139.4" fill="none" stroke="#444" stroke-width="0.9"/>
<g transform="translate(798.50 391.30)" font-size="11.02" fill="#2a3f5f"><text transform="scale(1.1108 1)" x="-0.43 8.30 14.53 17.45 20.98 23.44 28.72 34.73 40.94" y="0">Multicopy</text></g>
<g transform="translate(798.50 435.70)" font-size="11.02" fill="#2a3f5f"><text transform="scale(1.0399 1)" x="-0.57 6.39 10.24 16.28 21.82 28.25 34.65 40.33" y="0">Presence</text></g>
<g transform="translate(798.50 482.70)" font-size="11.02" fill="#2a3f5f"><text transform="scale(1.0613 1)" x="-0.23 7.03 13.17 18.59 24.88 31.16 36.72" y="0">Absence</text></g>
</svg>
</body></html>
